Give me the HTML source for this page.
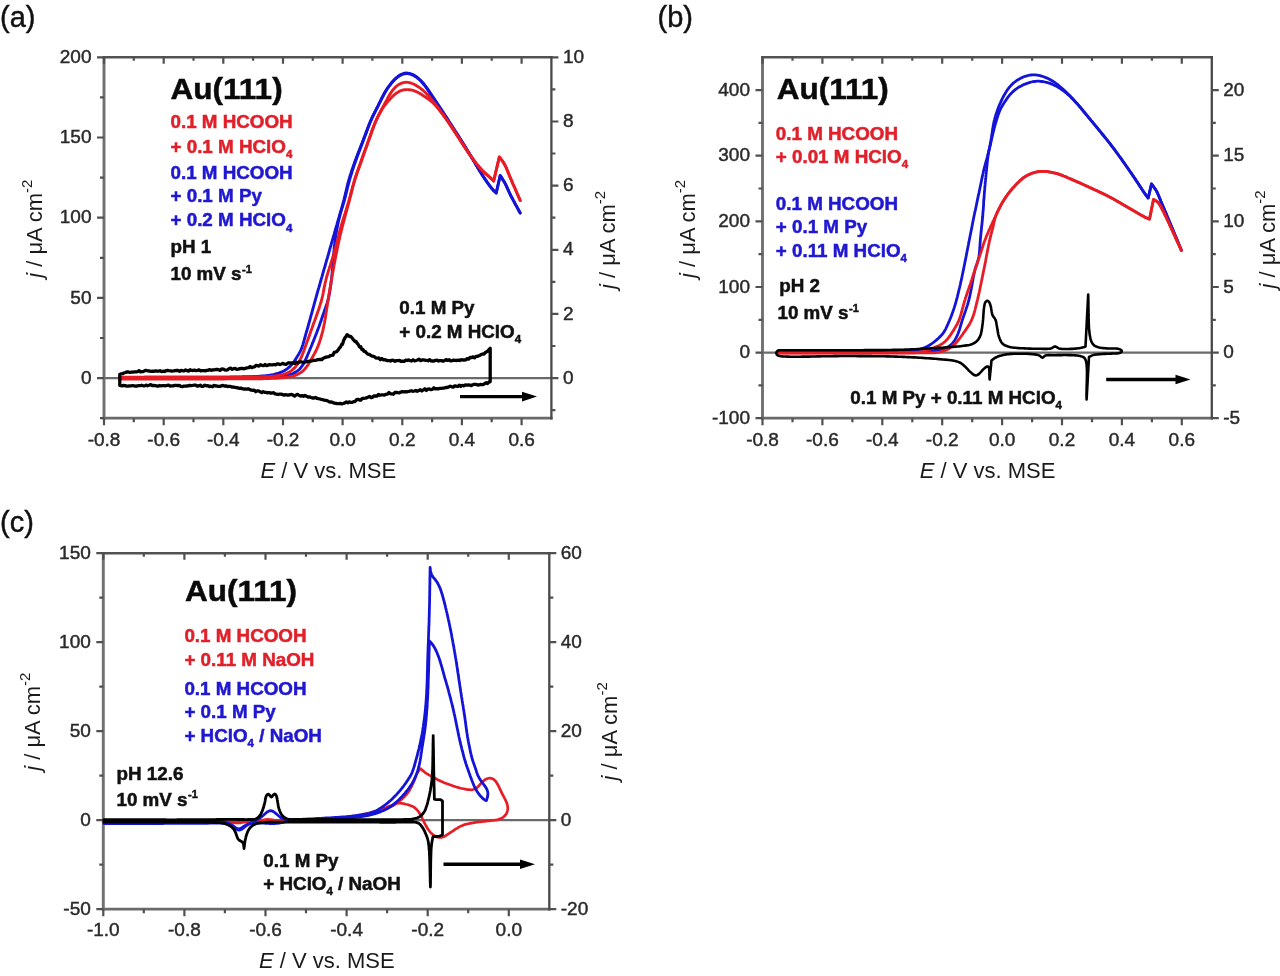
<!DOCTYPE html><html><head><meta charset="utf-8"><style>html,body{margin:0;padding:0;background:#fff;}svg{display:block;font-family:"Liberation Sans",sans-serif;filter:blur(0.45px);}</style></head><body>
<svg width="1280" height="976" viewBox="0 0 1280 976">
<rect width="1280" height="976" fill="#fff"/>
<text x="0" y="26.8" font-size="29" font-weight="normal" fill="#111" text-anchor="start" stroke="#111" stroke-width="0.45">(a)</text>
<text x="657.5" y="26.8" font-size="29" font-weight="normal" fill="#111" text-anchor="start" stroke="#111" stroke-width="0.45">(b)</text>
<text x="0" y="531.5" font-size="29" font-weight="normal" fill="#111" text-anchor="start" stroke="#111" stroke-width="0.45">(c)</text>
<line x1="104" y1="378.1" x2="551.4" y2="378.1" stroke="#6a6a6a" stroke-width="2.2"/>
<line x1="104" y1="56.1" x2="104" y2="419.4" stroke="#707070" stroke-width="2.9"/>
<line x1="102.8" y1="418.2" x2="552.6" y2="418.2" stroke="#6a6a6a" stroke-width="2.8"/>
<line x1="102.8" y1="57.3" x2="552.6" y2="57.3" stroke="#525252" stroke-width="2.5"/>
<line x1="551.4" y1="56.1" x2="551.4" y2="419.4" stroke="#484848" stroke-width="2.3"/>
<path d="M104,418.2v7M104,57.3v6.5M163.7,418.2v7M163.7,57.3v6.5M223.3,418.2v7M223.3,57.3v6.5M283,418.2v7M283,57.3v6.5M342.6,418.2v7M342.6,57.3v6.5M402.3,418.2v7M402.3,57.3v6.5M461.9,418.2v7M461.9,57.3v6.5M521.6,418.2v7M521.6,57.3v6.5M133.8,418.2v4M133.8,57.3v3.5M193.5,418.2v4M193.5,57.3v3.5M253.1,418.2v4M253.1,57.3v3.5M312.8,418.2v4M312.8,57.3v3.5M372.4,418.2v4M372.4,57.3v3.5M432.1,418.2v4M432.1,57.3v3.5M491.7,418.2v4M491.7,57.3v3.5M104,378.1h-7M104,297.9h-7M104,217.7h-7M104,137.5h-7M104,57.3h-7M104,418.2h-4M104,338h-4M104,257.8h-4M104,177.6h-4M104,97.4h-4M551.4,378.1h7M551.4,313.9h7M551.4,249.8h7M551.4,185.6h7M551.4,121.5h7M551.4,57.3h7M551.4,410.2h4M551.4,346h4M551.4,281.9h4M551.4,217.7h4M551.4,153.5h4M551.4,89.4h4" stroke="#505050" stroke-width="2.2" fill="none"/>
<text x="104" y="445.7" font-size="19" font-weight="normal" fill="#2a2a2a" text-anchor="middle" stroke="#2a2a2a" stroke-width="0.45">-0.8</text>
<text x="163.7" y="445.7" font-size="19" font-weight="normal" fill="#2a2a2a" text-anchor="middle" stroke="#2a2a2a" stroke-width="0.45">-0.6</text>
<text x="223.3" y="445.7" font-size="19" font-weight="normal" fill="#2a2a2a" text-anchor="middle" stroke="#2a2a2a" stroke-width="0.45">-0.4</text>
<text x="283" y="445.7" font-size="19" font-weight="normal" fill="#2a2a2a" text-anchor="middle" stroke="#2a2a2a" stroke-width="0.45">-0.2</text>
<text x="342.6" y="445.7" font-size="19" font-weight="normal" fill="#2a2a2a" text-anchor="middle" stroke="#2a2a2a" stroke-width="0.45">0.0</text>
<text x="402.3" y="445.7" font-size="19" font-weight="normal" fill="#2a2a2a" text-anchor="middle" stroke="#2a2a2a" stroke-width="0.45">0.2</text>
<text x="461.9" y="445.7" font-size="19" font-weight="normal" fill="#2a2a2a" text-anchor="middle" stroke="#2a2a2a" stroke-width="0.45">0.4</text>
<text x="521.6" y="445.7" font-size="19" font-weight="normal" fill="#2a2a2a" text-anchor="middle" stroke="#2a2a2a" stroke-width="0.45">0.6</text>
<text x="91.5" y="383.7" font-size="19" font-weight="normal" fill="#2a2a2a" text-anchor="end" stroke="#2a2a2a" stroke-width="0.45">0</text>
<text x="91.5" y="303.5" font-size="19" font-weight="normal" fill="#2a2a2a" text-anchor="end" stroke="#2a2a2a" stroke-width="0.45">50</text>
<text x="91.5" y="223.3" font-size="19" font-weight="normal" fill="#2a2a2a" text-anchor="end" stroke="#2a2a2a" stroke-width="0.45">100</text>
<text x="91.5" y="143.1" font-size="19" font-weight="normal" fill="#2a2a2a" text-anchor="end" stroke="#2a2a2a" stroke-width="0.45">150</text>
<text x="91.5" y="62.9" font-size="19" font-weight="normal" fill="#2a2a2a" text-anchor="end" stroke="#2a2a2a" stroke-width="0.45">200</text>
<text x="562.9" y="383.7" font-size="19" font-weight="normal" fill="#2a2a2a" text-anchor="start" stroke="#2a2a2a" stroke-width="0.45">0</text>
<text x="562.9" y="319.5" font-size="19" font-weight="normal" fill="#2a2a2a" text-anchor="start" stroke="#2a2a2a" stroke-width="0.45">2</text>
<text x="562.9" y="255.4" font-size="19" font-weight="normal" fill="#2a2a2a" text-anchor="start" stroke="#2a2a2a" stroke-width="0.45">4</text>
<text x="562.9" y="191.2" font-size="19" font-weight="normal" fill="#2a2a2a" text-anchor="start" stroke="#2a2a2a" stroke-width="0.45">6</text>
<text x="562.9" y="127.1" font-size="19" font-weight="normal" fill="#2a2a2a" text-anchor="start" stroke="#2a2a2a" stroke-width="0.45">8</text>
<text x="562.9" y="62.9" font-size="19" font-weight="normal" fill="#2a2a2a" text-anchor="start" stroke="#2a2a2a" stroke-width="0.45">10</text>
<text transform="translate(42.3,277.8) rotate(-90)" font-size="22" fill="#1a1a1a"><tspan font-style="italic">j</tspan> / &#956;A cm<tspan font-size="15" dy="-10">-2</tspan></text>
<text transform="translate(614.5,289) rotate(-90)" font-size="22" fill="#1a1a1a"><tspan font-style="italic">j</tspan> / &#956;A cm<tspan font-size="15" dy="-10">-2</tspan></text>
<text x="260.5" y="478.4" font-size="22" fill="#1a1a1a"><tspan font-style="italic">E</tspan> / V vs. MSE</text>
<path d="M119.5,377.4L121,377.4L122.5,377.4L124,377.4L125.5,377.4L127,377.4L128.5,377.4L130,377.4L131.5,377.4L133,377.4L134.5,377.4L136,377.4L137.5,377.4L139,377.4L140.5,377.4L142,377.4L143.5,377.4L145.1,377.3L146.6,377.3L148.1,377.3L149.6,377.3L151.1,377.3L152.6,377.3L154.1,377.3L155.6,377.3L157.1,377.3L158.6,377.3L160.1,377.3L161.6,377.3L163.1,377.3L164.6,377.3L166.1,377.3L167.6,377.3L169.1,377.3L170.6,377.3L172.1,377.3L173.6,377.3L175.1,377.3L176.6,377.3L178.1,377.3L179.6,377.3L181.1,377.3L182.6,377.3L184.1,377.3L185.6,377.3L187.1,377.3L188.6,377.2L190.1,377.2L191.6,377.2L193.2,377.2L194.7,377.2L196.2,377.2L197.7,377.2L199.2,377.2L200.7,377.2L202.2,377.2L203.7,377.2L205.2,377.2L206.7,377.2L208.2,377.2L209.7,377.2L211.2,377.2L212.7,377.2L214.2,377.1L215.7,377.1L217.2,377.1L218.7,377.1L220.2,377.1L221.7,377.1L223.2,377.1L224.7,377.1L226.2,377.1L227.7,377.1L229.2,377.1L230.7,377L232.2,377L233.7,377L235.2,377L236.7,377L238.2,376.9L239.7,376.9L241.2,376.9L242.8,376.8L244.3,376.8L245.8,376.8L247.3,376.8L248.8,376.7L250.3,376.7L251.8,376.6L253.3,376.6L254.8,376.5L256.3,376.5L257.8,376.4L259.3,376.3L260.8,376.2L262.3,376L263.8,375.9L265.3,375.8L266.8,375.6L268.2,375.4L269.7,375.2L271.2,374.9L272.7,374.7L274.2,374.4L275.6,374L277.1,373.6L278.5,373.2L279.9,372.7L281.3,372.1L282.7,371.5L284,370.9L285.3,370.1L286.5,369.3L287.7,368.4L288.9,367.4L290,366.4L291,365.3L292,364.2L293,363.1L293.9,361.9L294.7,360.6L295.5,359.4L296.3,358.1L297.1,356.8L297.9,355.5L298.7,354.2L299.4,352.9L300.1,351.6L300.7,350.3L301.3,348.9L301.9,347.5L302.4,346.1L302.9,344.6L303.3,343.2L303.7,341.8L304.1,340.3L304.5,338.9L304.9,337.4L305.3,336L305.7,334.5L306.1,333.1L306.5,331.6L307,330.2L307.4,328.7L307.8,327.3L308.2,325.8L308.6,324.4L309,322.9L309.4,321.5L309.8,320.1L310.2,318.6L310.6,317.2L311,315.7L311.4,314.3L311.8,312.8L312.2,311.4L312.6,309.9L313,308.5L313.4,307L313.8,305.6L314.2,304.1L314.6,302.7L315,301.2L315.4,299.8L315.8,298.3L316.2,296.9L316.6,295.4L317,294L317.4,292.5L317.8,291.1L318.2,289.6L318.7,288.2L319.1,286.8L319.5,285.3L319.9,283.9L320.3,282.4L320.7,281L321.1,279.5L321.5,278.1L322,276.6L322.4,275.2L322.8,273.7L323.2,272.3L323.6,270.9L324,269.4L324.4,268L324.9,266.5L325.3,265.1L325.7,263.6L326.1,262.2L326.5,260.7L326.9,259.3L327.4,257.9L327.8,256.4L328.2,255L328.6,253.5L329,252.1L329.4,250.6L329.8,249.2L330.2,247.7L330.7,246.3L331.1,244.8L331.5,243.4L331.9,242L332.3,240.5L332.7,239.1L333.1,237.6L333.5,236.2L334,234.7L334.4,233.3L334.8,231.8L335.2,230.4L335.6,228.9L336,227.5L336.4,226.1L336.9,224.6L337.3,223.2L337.7,221.7L338.1,220.3L338.5,218.8L339,217.4L339.4,216L339.8,214.5L340.2,213.1L340.6,211.6L341.1,210.2L341.5,208.7L341.9,207.3L342.3,205.8L342.7,204.4L343.1,202.9L343.5,201.5L343.9,200L344.2,198.6L344.6,197.1L345,195.7L345.3,194.2L345.7,192.7L346,191.3L346.3,189.8L346.7,188.4L347,186.9L347.4,185.4L347.8,184L348.1,182.5L348.5,181.1L348.9,179.6L349.4,178.2L349.8,176.7L350.2,175.3L350.7,173.9L351.2,172.4L351.6,171L352.1,169.6L352.6,168.2L353.1,166.8L353.6,165.3L354.1,163.9L354.6,162.5L355.1,161.1L355.6,159.7L356.1,158.3L356.7,156.9L357.2,155.5L357.7,154L358.3,152.6L358.8,151.2L359.4,149.8L359.9,148.4L360.4,147L361,145.6L361.5,144.2L362.1,142.8L362.6,141.4L363.2,140L363.7,138.6L364.2,137.2L364.8,135.8L365.3,134.4L365.8,133L366.3,131.6L366.9,130.2L367.4,128.8L367.9,127.4L368.5,126L369,124.6L369.6,123.2L370.2,121.8L370.8,120.4L371.4,119L372,117.7L372.6,116.3L373.3,115L374,113.6L374.7,112.3L375.3,110.9L376,109.6L376.7,108.3L377.4,106.9L378.1,105.6L378.8,104.2L379.4,102.9L380.1,101.6L380.8,100.2L381.4,98.9L382.1,97.5L382.8,96.2L383.5,94.9L384.2,93.5L384.9,92.2L385.7,90.9L386.5,89.7L387.3,88.4L388.2,87.2L389.1,86L390,84.8L390.9,83.6L391.8,82.4L392.8,81.3L393.8,80.2L394.9,79.1L396,78.1L397.1,77.1L398.3,76.2L399.5,75.3L400.8,74.6L402.1,74L403.5,73.5L404.9,73.2L406.4,73L407.8,73.1L409.3,73.4L410.7,73.8L412.1,74.3L413.4,74.9L414.7,75.6L416,76.5L417.2,77.3L418.3,78.3L419.4,79.3L420.5,80.3L421.6,81.4L422.6,82.5L423.6,83.6L424.5,84.8L425.4,86L426.3,87.2L427.2,88.4L428.1,89.6L428.9,90.9L429.7,92.1L430.6,93.4L431.4,94.6L432.2,95.9L433.1,97.1L433.9,98.4L434.7,99.6L435.6,100.9L436.4,102.1L437.2,103.4L438.1,104.6L438.9,105.9L439.7,107.1L440.6,108.4L441.4,109.6L442.2,110.9L443.1,112.1L443.9,113.4L444.7,114.7L445.5,115.9L446.4,117.2L447.2,118.4L448,119.7L448.8,121L449.6,122.2L450.5,123.5L451.3,124.7L452.1,126L452.9,127.3L453.7,128.5L454.5,129.8L455.3,131.1L456.1,132.3L457,133.6L457.8,134.9L458.6,136.1L459.4,137.4L460.2,138.7L461,139.9L461.8,141.2L462.6,142.5L463.4,143.8L464.2,145L465,146.3L465.8,147.6L466.5,148.9L467.3,150.1L468.1,151.4L468.9,152.7L469.7,154L470.5,155.3L471.2,156.6L472,157.9L472.8,159.1L473.5,160.4L474.3,161.7L475.1,163L475.8,164.3L476.6,165.6L477.4,166.9L478.2,168.2L478.9,169.5L479.7,170.8L480.5,172L481.3,173.3L482.1,174.6L482.9,175.8L483.7,177.1L484.6,178.4L485.4,179.6L486.3,180.8L487.1,182.1L488,183.3L488.9,184.5L489.7,185.7L490.6,187L491.6,188.1L492.5,189.3L493.5,190.4L494.6,191.5L495.7,192.5L496.2,193L500.2,175.5L501.1,176.8L501.9,178.1L502.7,179.4L503.5,180.7L504.3,182L505.1,183.4L505.8,184.8L506.5,186.2L507.1,187.6L507.7,189L508.4,190.4L509,191.8L509.7,193.2L510.3,194.6L511,196L511.7,197.3L512.5,198.7L513.2,200.1L513.9,201.4L514.6,202.8L515.4,204.2L516.1,205.5L516.9,206.9L517.6,208.2L518.4,209.6L519.1,211L519.8,212.3L520.2,213" fill="none" stroke="#1414d8" stroke-width="2.9" stroke-linejoin="round" stroke-linecap="round"/>
<path d="M119.5,377.4L121,377.4L122.5,377.4L124,377.4L125.5,377.4L127,377.4L128.5,377.4L130,377.4L131.5,377.4L133,377.4L134.5,377.4L136,377.4L137.5,377.4L139,377.4L140.5,377.4L142,377.4L143.5,377.4L145,377.4L146.5,377.4L148.1,377.4L149.6,377.4L151.1,377.4L152.6,377.4L154.1,377.4L155.6,377.4L157.1,377.4L158.6,377.4L160.1,377.4L161.6,377.4L163.1,377.4L164.6,377.4L166.1,377.4L167.6,377.4L169.1,377.4L170.6,377.4L172.1,377.4L173.6,377.4L175.1,377.4L176.6,377.4L178.1,377.4L179.6,377.4L181.1,377.4L182.6,377.4L184.1,377.4L185.6,377.4L187.1,377.4L188.6,377.4L190.1,377.4L191.6,377.4L193.1,377.4L194.6,377.4L196.1,377.4L197.6,377.4L199.1,377.5L200.6,377.5L202.1,377.5L203.6,377.5L205.2,377.5L206.7,377.5L208.2,377.5L209.7,377.5L211.2,377.5L212.7,377.5L214.2,377.5L215.7,377.5L217.2,377.5L218.7,377.4L220.2,377.4L221.7,377.4L223.2,377.4L224.7,377.4L226.2,377.4L227.7,377.4L229.2,377.4L230.7,377.4L232.2,377.4L233.7,377.4L235.2,377.4L236.7,377.4L238.2,377.4L239.7,377.4L241.2,377.4L242.7,377.4L244.2,377.4L245.7,377.4L247.2,377.3L248.7,377.3L250.2,377.3L251.7,377.3L253.2,377.3L254.7,377.3L256.2,377.3L257.7,377.2L259.2,377.2L260.7,377.2L262.3,377.2L263.8,377.1L265.3,377.1L266.8,377.1L268.3,377.1L269.8,377.1L271.3,377L272.8,377L274.3,376.9L275.8,376.8L277.3,376.7L278.8,376.6L280.3,376.4L281.7,376.2L283.2,376L284.7,375.8L286.2,375.5L287.6,375.2L289.1,374.8L290.5,374.4L291.9,373.9L293.3,373.3L294.7,372.6L296,371.9L297.2,371.1L298.4,370.2L299.5,369.2L300.5,368.1L301.4,366.9L302.3,365.7L303.1,364.4L303.8,363.2L304.5,361.8L305.2,360.5L305.8,359.1L306.5,357.8L307.1,356.4L307.6,355L308.2,353.6L308.8,352.2L309.4,350.8L309.9,349.4L310.5,348.1L311.1,346.7L311.7,345.3L312.2,343.9L312.8,342.5L313.4,341.1L313.9,339.7L314.5,338.3L315,336.9L315.6,335.5L316.1,334.1L316.7,332.7L317.2,331.3L317.7,329.9L318.2,328.5L318.8,327.1L319.3,325.7L319.8,324.3L320.3,322.8L320.8,321.4L321.3,320L321.7,318.6L322.2,317.2L322.7,315.7L323.2,314.3L323.7,312.9L324.2,311.5L324.7,310.1L325.2,308.7L325.7,307.2L326.2,305.8L326.7,304.4L327.2,303L327.6,301.5L328,300.1L328.4,298.6L328.7,297.2L329,295.7L329.3,294.2L329.6,292.7L329.8,291.3L330,289.8L330.3,288.3L330.5,286.8L330.7,285.3L330.9,283.8L331.1,282.3L331.3,280.9L331.5,279.4L331.6,277.9L331.8,276.4L331.9,274.9L332.1,273.4L332.2,271.9L332.3,270.4L332.5,268.9L332.6,267.4L332.7,265.9L332.8,264.4L332.9,262.9L333,261.4L333.1,259.9L333.2,258.4L333.4,256.9L333.5,255.4L333.6,253.9L333.8,252.4L333.9,250.9L334.1,249.4L334.2,247.9L334.4,246.4L334.6,244.9L334.8,243.5L334.9,242L335.1,240.5L335.3,239L335.5,237.5L335.8,236L336,234.5L336.2,233L336.5,231.6L336.7,230.1L337,228.6L337.3,227.1L337.6,225.6L337.9,224.2L338.2,222.7L338.5,221.2L338.8,219.8L339.2,218.3L339.6,216.9L339.9,215.4L340.3,213.9L340.7,212.5L341.1,211.1L341.6,209.6L342,208.2L342.5,206.8L342.9,205.3L343.3,203.9L343.8,202.4L344.2,201L344.6,199.5L345,198.1L345.4,196.6L345.7,195.2L346.1,193.7L346.4,192.3L346.8,190.8L347.1,189.3L347.5,187.9L347.8,186.4L348.2,185L348.6,183.5L349,182.1L349.4,180.6L349.8,179.2L350.2,177.7L350.6,176.3L351.1,174.8L351.5,173.4L352,172L352.4,170.5L352.9,169.1L353.4,167.7L353.8,166.3L354.3,164.8L354.8,163.4L355.3,162L355.8,160.6L356.3,159.2L356.8,157.8L357.3,156.3L357.9,154.9L358.4,153.5L358.9,152.1L359.5,150.7L360,149.3L360.5,147.9L361.1,146.5L361.6,145.1L362.2,143.7L362.7,142.3L363.2,140.9L363.8,139.5L364.3,138.1L364.8,136.7L365.3,135.3L365.9,133.9L366.4,132.5L366.9,131L367.4,129.6L367.9,128.2L368.5,126.8L369,125.4L369.6,124L370.1,122.6L370.7,121.2L371.3,119.9L371.9,118.5L372.5,117.1L373.2,115.8L373.8,114.4L374.5,113.1L375.2,111.7L375.9,110.4L376.5,109L377.2,107.7L377.9,106.4L378.6,105L379.2,103.7L379.9,102.3L380.6,101L381.2,99.6L381.9,98.3L382.6,97L383.3,95.6L384,94.3L384.7,93L385.5,91.7L386.2,90.4L387,89.1L387.9,87.9L388.8,86.7L389.6,85.5L390.6,84.3L391.5,83.1L392.5,82L393.5,80.9L394.6,79.8L395.7,78.8L396.8,77.8L398,76.9L399.2,76L400.5,75.3L401.8,74.6L403.2,74.1L404.6,73.8L406,73.6L407.5,73.6L408.9,73.8L410.4,74.1L411.8,74.6L413.1,75.2L414.4,75.9L415.7,76.7L416.9,77.6L418.1,78.5L419.2,79.5L420.3,80.5L421.3,81.6L422.3,82.7L423.3,83.8L424.3,85L425.2,86.2L426.1,87.4L426.9,88.6L427.8,89.9L428.6,91.1L429.4,92.4L430.2,93.6L431.1,94.9L431.9,96.2L432.7,97.4L433.6,98.7L434.4,99.9L435.2,101.1L436.1,102.4L436.9,103.6L437.8,104.9L438.6,106.1L439.5,107.4L440.3,108.6L441.2,109.8L442,111.1L442.8,112.3L443.7,113.6L444.5,114.8L445.3,116.1L446.1,117.4L447,118.6L447.8,119.9L448.6,121.1L449.4,122.4L450.2,123.6L451.1,124.9L451.9,126.2L452.7,127.4L453.5,128.7L454.3,130L455.1,131.2L455.9,132.5L456.7,133.8L457.6,135L458.4,136.3L459.2,137.6L460,138.8L460.8,140.1L461.6,141.4L462.4,142.6L463.2,143.9L464,145.2L464.8,146.4L465.6,147.7L466.4,149L467.2,150.3L468,151.5L468.8,152.8L469.6,154.1L470.4,155.4L471.1,156.7L471.9,158L472.7,159.2L473.4,160.5L474.2,161.8L475,163.1L475.7,164.4L476.5,165.7L477.3,167L478,168.3L478.8,169.6L479.6,170.9L480.4,172.1L481.2,173.4L482,174.7L482.8,175.9L483.6,177.2L484.5,178.5L485.3,179.7L486.2,180.9L487,182.2L487.9,183.4L488.8,184.6L489.7,185.8L490.6,187L491.5,188.2L492.5,189.3L493.5,190.4L494.6,191.5L495.6,192.5L496.2,193L500.2,175.5L501.1,176.8L501.9,178.1L502.7,179.4L503.5,180.7L504.3,182L505.1,183.4L505.8,184.8L506.5,186.2L507.1,187.6L507.7,189L508.4,190.4L509,191.8L509.7,193.2L510.3,194.6L511,196L511.7,197.3L512.5,198.7L513.2,200.1L513.9,201.4L514.6,202.8L515.4,204.2L516.1,205.5L516.9,206.9L517.6,208.2L518.4,209.6L519.1,211L519.8,212.3L520.2,213" fill="none" stroke="#1414d8" stroke-width="2.9" stroke-linejoin="round" stroke-linecap="round"/>
<path d="M119.5,377.3L121,377.3L122.5,377.3L124,377.3L125.5,377.3L127,377.3L128.5,377.3L130,377.3L131.5,377.3L133,377.3L134.5,377.3L136,377.3L137.5,377.3L139,377.3L140.5,377.3L142,377.3L143.5,377.3L145,377.3L146.5,377.3L148,377.3L149.5,377.3L151.1,377.3L152.6,377.3L154.1,377.3L155.6,377.3L157.1,377.3L158.6,377.3L160.1,377.3L161.6,377.3L163.1,377.3L164.6,377.3L166.1,377.3L167.6,377.3L169.1,377.3L170.6,377.3L172.1,377.2L173.6,377.2L175.1,377.2L176.6,377.2L178.1,377.2L179.6,377.2L181.1,377.2L182.6,377.2L184.1,377.2L185.6,377.2L187.1,377.2L188.6,377.2L190.1,377.2L191.6,377.2L193.1,377.2L194.6,377.2L196.1,377.2L197.6,377.2L199.1,377.2L200.6,377.2L202.1,377.2L203.6,377.2L205.1,377.2L206.6,377.2L208.1,377.2L209.6,377.2L211.1,377.2L212.7,377.2L214.2,377.2L215.7,377.2L217.2,377.2L218.7,377.2L220.2,377.2L221.7,377.2L223.2,377.2L224.7,377.2L226.2,377.2L227.7,377.1L229.2,377.1L230.7,377.1L232.2,377.1L233.7,377.1L235.2,377.1L236.7,377.1L238.2,377.1L239.7,377.1L241.2,377.1L242.7,377.1L244.2,377.1L245.7,377L247.2,377L248.7,377L250.2,377L251.7,377L253.2,377L254.7,376.9L256.2,376.9L257.7,376.9L259.2,376.9L260.7,376.9L262.2,376.8L263.7,376.8L265.2,376.7L266.7,376.7L268.2,376.6L269.7,376.5L271.2,376.4L272.7,376.3L274.2,376.1L275.7,376L277.2,375.8L278.7,375.6L280.2,375.3L281.6,375L283.1,374.6L284.5,374.2L285.9,373.7L287.3,373.1L288.6,372.4L289.9,371.7L291.1,370.8L292.3,369.9L293.4,368.9L294.5,367.9L295.5,366.8L296.4,365.6L297.3,364.4L298.1,363.1L298.9,361.9L299.6,360.6L300.3,359.2L301,357.9L301.6,356.5L302.2,355.1L302.7,353.7L303.3,352.3L303.8,350.9L304.3,349.5L304.8,348.1L305.3,346.7L305.8,345.3L306.3,343.9L306.8,342.4L307.4,341L307.9,339.6L308.4,338.2L308.9,336.8L309.4,335.4L309.9,334L310.4,332.5L310.9,331.1L311.4,329.7L311.9,328.3L312.4,326.9L312.9,325.5L313.4,324.1L313.9,322.6L314.5,321.2L315,319.8L315.5,318.4L316,317L316.5,315.6L317,314.2L317.5,312.7L318,311.3L318.5,309.9L319,308.5L319.4,307.1L319.9,305.6L320.3,304.2L320.8,302.8L321.2,301.3L321.6,299.9L322,298.4L322.3,297L322.7,295.5L323,294L323.3,292.5L323.5,291.1L323.8,289.6L324.1,288.1L324.4,286.6L324.7,285.2L325,283.7L325.3,282.2L325.7,280.8L326,279.3L326.4,277.9L326.8,276.4L327.2,275L327.7,273.5L328.1,272.1L328.5,270.7L329,269.2L329.4,267.8L329.9,266.4L330.4,264.9L330.8,263.5L331.3,262.1L331.7,260.6L332.2,259.2L332.6,257.8L333.1,256.3L333.5,254.9L334,253.5L334.4,252L334.8,250.6L335.2,249.1L335.6,247.7L336,246.2L336.3,244.8L336.7,243.3L337.1,241.9L337.4,240.4L337.8,238.9L338.1,237.5L338.5,236L338.8,234.6L339.2,233.1L339.6,231.6L340,230.2L340.4,228.7L340.8,227.3L341.2,225.9L341.6,224.4L342.1,223L342.5,221.5L342.9,220.1L343.4,218.7L343.8,217.2L344.3,215.8L344.7,214.4L345.2,212.9L345.6,211.5L346.1,210.1L346.5,208.6L346.9,207.2L347.4,205.8L347.8,204.3L348.2,202.9L348.7,201.4L349.1,200L349.5,198.5L349.9,197.1L350.3,195.6L350.7,194.2L351,192.7L351.4,191.3L351.8,189.8L352.2,188.4L352.6,186.9L353,185.5L353.4,184L353.8,182.6L354.2,181.1L354.6,179.7L355.1,178.3L355.5,176.8L356,175.4L356.5,174L357,172.6L357.5,171.2L358,169.7L358.5,168.3L359,166.9L359.5,165.5L360,164.1L360.5,162.7L361,161.3L361.5,159.8L362,158.4L362.5,157L363,155.6L363.5,154.2L364,152.8L364.5,151.3L365,149.9L365.5,148.5L366.1,147.1L366.6,145.7L367.1,144.3L367.6,142.9L368.1,141.4L368.6,140L369.1,138.6L369.6,137.2L370.1,135.8L370.6,134.4L371.1,133L371.6,131.5L372.1,130.1L372.6,128.7L373.2,127.3L373.7,125.9L374.3,124.5L374.8,123.1L375.4,121.7L376,120.3L376.6,119L377.3,117.6L377.9,116.3L378.6,114.9L379.3,113.6L380,112.3L380.7,111L381.4,109.6L382.2,108.3L382.9,107L383.6,105.7L384.3,104.4L385,103L385.7,101.7L386.5,100.4L387.2,99.1L387.9,97.8L388.6,96.4L389.4,95.1L390.2,93.9L391,92.6L391.8,91.4L392.7,90.2L393.7,89L394.7,87.9L395.7,86.9L396.9,85.9L398,85L399.3,84.2L400.6,83.6L402,83L403.4,82.7L404.9,82.4L406.3,82.3L407.8,82.4L409.2,82.6L410.7,83L412.1,83.5L413.5,84L414.8,84.7L416.1,85.4L417.4,86.2L418.6,87L419.9,87.9L421.1,88.8L422.2,89.7L423.4,90.7L424.5,91.7L425.6,92.7L426.6,93.8L427.6,94.9L428.6,96L429.6,97.2L430.5,98.3L431.5,99.5L432.4,100.7L433.4,101.8L434.3,103L435.3,104.2L436.2,105.4L437.1,106.6L438,107.7L439,108.9L439.9,110.1L440.8,111.3L441.7,112.5L442.6,113.7L443.5,114.9L444.3,116.2L445.2,117.4L446.1,118.6L446.9,119.9L447.8,121.1L448.6,122.3L449.4,123.6L450.3,124.8L451.1,126.1L451.9,127.4L452.7,128.6L453.6,129.9L454.4,131.1L455.2,132.4L456,133.7L456.8,134.9L457.7,136.2L458.5,137.4L459.3,138.7L460.1,140L460.9,141.2L461.7,142.5L462.5,143.8L463.3,145L464.1,146.3L465,147.5L465.8,148.8L466.6,150.1L467.5,151.3L468.3,152.5L469.2,153.8L470,155L470.9,156.2L471.8,157.4L472.7,158.7L473.6,159.9L474.4,161.1L475.4,162.3L476.3,163.5L477.2,164.6L478.1,165.8L479.1,167L480.1,168.1L481.1,169.2L482.1,170.3L483.2,171.4L484.3,172.4L485.4,173.4L486.5,174.4L487.7,175.4L488.8,176.4L489.9,177.4L491,178.4L492.1,179.4L493.2,180.5L493.7,181L499.3,157L500.3,158.2L501.2,159.4L502.2,160.6L503,161.9L503.9,163.2L504.6,164.5L505.3,165.8L506,167.2L506.6,168.6L507.2,170.1L507.8,171.5L508.3,172.9L508.9,174.3L509.5,175.8L510.1,177.2L510.7,178.6L511.3,180L511.9,181.4L512.5,182.9L513.1,184.3L513.8,185.7L514.4,187.1L515,188.5L515.6,189.9L516.2,191.3L516.8,192.7L517.4,194.1L518.1,195.6L518.7,197L519.3,198.4L519.9,199.8L520.2,200.5" fill="none" stroke="#e81c24" stroke-width="2.9" stroke-linejoin="round" stroke-linecap="round"/>
<path d="M119.5,379L121,379L122.5,379L124,379L125.5,379L127,379L128.5,379L130,379L131.5,379L133,379L134.5,379L136,379L137.5,379L139,379L140.5,379L142,379L143.6,379L145.1,379L146.6,379L148.1,379L149.6,379L151.1,379L152.6,379L154.1,379L155.6,379L157.1,379L158.6,379L160.1,379L161.6,379L163.1,379L164.6,379L166.1,379L167.6,379L169.1,379L170.6,379L172.1,379L173.6,379L175.1,379L176.6,379L178.1,379L179.6,379L181.1,379L182.6,379L184.1,379L185.6,379L187.1,379L188.6,379L190.2,379L191.7,379L193.2,379L194.7,379L196.2,379L197.7,379L199.2,379L200.7,379L202.2,379L203.7,379L205.2,379L206.7,379L208.2,379L209.7,379L211.2,379L212.7,379L214.2,379L215.7,379L217.2,379L218.7,379L220.2,379L221.7,379L223.2,379L224.7,379L226.2,378.9L227.7,378.9L229.2,378.9L230.7,378.9L232.2,378.9L233.7,378.9L235.3,378.9L236.8,378.9L238.3,378.9L239.8,378.9L241.3,378.9L242.8,378.9L244.3,378.9L245.8,378.8L247.3,378.8L248.8,378.8L250.3,378.8L251.8,378.8L253.3,378.8L254.8,378.7L256.3,378.7L257.8,378.7L259.3,378.7L260.8,378.7L262.3,378.7L263.8,378.6L265.3,378.6L266.8,378.6L268.3,378.5L269.8,378.5L271.3,378.4L272.8,378.4L274.3,378.3L275.8,378.2L277.3,378.1L278.8,378L280.3,377.9L281.8,377.7L283.3,377.6L284.8,377.4L286.3,377.2L287.8,377L289.3,376.7L290.7,376.5L292.2,376.1L293.7,375.8L295.1,375.3L296.5,374.8L297.9,374.2L299.2,373.5L300.5,372.8L301.7,371.9L302.8,371L303.9,370L304.9,368.9L305.9,367.7L306.8,366.5L307.7,365.3L308.5,364.1L309.3,362.8L310,361.5L310.8,360.2L311.5,358.9L312.3,357.6L313,356.3L313.7,355L314.5,353.6L315.2,352.3L315.9,351L316.5,349.6L317.1,348.3L317.7,346.9L318.3,345.5L318.8,344.1L319.3,342.7L319.8,341.2L320.2,339.8L320.7,338.4L321.1,336.9L321.5,335.5L321.9,334L322.3,332.6L322.7,331.1L323,329.7L323.4,328.2L323.7,326.7L324,325.3L324.3,323.8L324.6,322.3L324.8,320.8L325.1,319.3L325.3,317.9L325.6,316.4L325.8,314.9L326,313.4L326.3,311.9L326.5,310.4L326.7,309L326.9,307.5L327.2,306L327.4,304.5L327.6,303L327.9,301.5L328.1,300L328.3,298.6L328.6,297.1L328.8,295.6L329.1,294.1L329.3,292.6L329.5,291.1L329.8,289.7L330,288.2L330.3,286.7L330.5,285.2L330.8,283.7L331,282.2L331.3,280.8L331.5,279.3L331.8,277.8L332.1,276.3L332.3,274.8L332.6,273.4L332.8,271.9L333.1,270.4L333.4,268.9L333.7,267.4L333.9,266L334.2,264.5L334.5,263L334.8,261.5L335,260L335.3,258.6L335.6,257.1L335.9,255.6L336.2,254.1L336.5,252.7L336.8,251.2L337.1,249.7L337.4,248.3L337.7,246.8L338,245.3L338.3,243.8L338.6,242.4L338.9,240.9L339.3,239.4L339.6,238L339.9,236.5L340.3,235L340.6,233.6L341,232.1L341.3,230.7L341.7,229.2L342.1,227.7L342.4,226.3L342.8,224.8L343.2,223.4L343.6,221.9L344,220.5L344.4,219L344.7,217.6L345.1,216.1L345.5,214.7L345.9,213.2L346.3,211.8L346.7,210.3L347.1,208.9L347.5,207.4L347.9,206L348.3,204.5L348.7,203.1L349.1,201.6L349.5,200.2L349.8,198.7L350.2,197.2L350.6,195.8L351,194.3L351.3,192.9L351.7,191.4L352.1,190L352.4,188.5L352.8,187L353.2,185.6L353.6,184.1L354,182.7L354.5,181.3L354.9,179.8L355.3,178.4L355.8,177L356.3,175.5L356.8,174.1L357.2,172.7L357.7,171.3L358.2,169.9L358.8,168.4L359.3,167L359.8,165.6L360.3,164.2L360.8,162.8L361.3,161.4L361.8,160L362.3,158.5L362.8,157.1L363.3,155.7L363.8,154.3L364.3,152.9L364.8,151.4L365.3,150L365.8,148.6L366.3,147.2L366.8,145.8L367.3,144.4L367.8,142.9L368.3,141.5L368.9,140.1L369.4,138.7L369.9,137.3L370.4,135.9L370.9,134.5L371.4,133L371.9,131.6L372.4,130.2L372.9,128.8L373.4,127.4L373.9,126L374.5,124.6L375.1,123.2L375.7,121.8L376.3,120.4L376.9,119.1L377.5,117.7L378.2,116.4L378.9,115L379.6,113.7L380.3,112.4L381.1,111.1L381.8,109.8L382.6,108.5L383.4,107.3L384.3,106L385.2,104.8L386.1,103.6L387,102.4L388,101.3L389,100.2L390,99L391,97.9L392.1,96.9L393.1,95.8L394.3,94.8L395.4,93.9L396.6,93L397.9,92.2L399.2,91.4L400.5,90.8L401.9,90.3L403.3,89.9L404.8,89.7L406.2,89.6L407.7,89.6L409.2,89.7L410.7,89.9L412.1,90.2L413.6,90.6L415,91.1L416.4,91.7L417.7,92.3L419,93L420.3,93.8L421.6,94.6L422.9,95.4L424.1,96.2L425.4,97L426.6,97.9L427.9,98.7L429.1,99.6L430.3,100.5L431.4,101.5L432.6,102.4L433.6,103.5L434.7,104.6L435.7,105.7L436.7,106.8L437.6,108L438.6,109.1L439.5,110.3L440.4,111.5L441.3,112.7L442.3,113.9L443.2,115.1L444.1,116.3L444.9,117.5L445.8,118.7L446.7,120L447.6,121.2L448.4,122.4L449.2,123.7L450.1,124.9L450.9,126.2L451.7,127.4L452.6,128.7L453.4,129.9L454.2,131.2L455,132.5L455.9,133.7L456.7,135L457.5,136.2L458.3,137.5L459.2,138.7L460,140L460.8,141.3L461.6,142.5L462.4,143.8L463.3,145L464.1,146.3L464.9,147.6L465.7,148.8L466.6,150L467.4,151.3L468.3,152.5L469.2,153.8L470,155L470.9,156.2L471.8,157.4L472.7,158.6L473.6,159.8L474.4,161.1L475.4,162.3L476.3,163.5L477.2,164.6L478.1,165.8L479.1,167L480.1,168.1L481.1,169.2L482.1,170.3L483.2,171.3L484.3,172.4L485.4,173.4L486.5,174.4L487.7,175.4L488.8,176.4L489.9,177.4L491,178.4L492.1,179.4L493.2,180.5L493.7,181L499.3,157L500.3,158.2L501.2,159.4L502.2,160.6L503,161.9L503.9,163.2L504.6,164.5L505.3,165.8L506,167.2L506.6,168.6L507.2,170.1L507.8,171.5L508.3,172.9L508.9,174.3L509.5,175.8L510.1,177.2L510.7,178.6L511.3,180L511.9,181.4L512.5,182.9L513.1,184.3L513.8,185.7L514.4,187.1L515,188.5L515.6,189.9L516.2,191.3L516.8,192.7L517.4,194.1L518.1,195.6L518.7,197L519.3,198.4L519.9,199.8L520.2,200.5" fill="none" stroke="#e81c24" stroke-width="2.9" stroke-linejoin="round" stroke-linecap="round"/>
<path d="M119.8,374.5L121.2,373.8L122.6,373.7L124,372.9L125.5,372.5L127,371.9L128.4,372L129.9,372.5L131.4,372.1L132.9,372.2L134.4,371.8L136,371.8L137.5,371.6L139,370.7L140.5,371.8L142,371.6L143.5,371.5L145,370.5L146.5,370.5L148,370.8L149.5,371L151,371.3L152.5,371.1L154,371.3L155.5,370.8L157,371.2L158.5,371.2L160,370.7L161.5,371.7L163,371.2L164.5,371.5L166,370.6L167.5,370.5L169,370.7L170.5,370.8L172,371.1L173.6,370.9L175.1,370.6L176.6,370.3L178.1,370.5L179.6,371.3L181.1,370.3L182.6,370.8L184.1,370.9L185.6,370L187.1,370.6L188.6,371.2L190.1,369.7L191.6,370.4L193.1,370.5L194.6,370.1L196.1,370.7L197.6,370.4L199.1,369.8L200.6,370.8L202.1,370.7L203.6,370.7L205.1,370.9L206.6,370.4L208.2,370.3L209.7,369.6L211.2,370.4L212.7,369.8L214.2,369.9L215.7,369.5L217.2,369.5L218.7,369.7L220.2,370.4L221.7,368.9L223.2,369.1L224.7,369.8L226.2,370.2L227.7,369.7L229.2,368.5L230.7,368.2L232.2,369.3L233.7,368.7L235.2,368.5L236.7,369.3L238.2,369.2L239.7,368.6L241.2,368.5L242.7,368.4L244.2,368.8L245.7,368.2L247.2,367.9L248.7,367.7L250.1,366.5L251.6,367.6L253.1,367.2L254.6,366.7L256.1,365.3L257.6,365.7L259,366.1L260.5,364.7L262,365.3L263.5,365.7L265,364.5L266.5,365.7L268,365.1L269.5,364.6L271,364.8L272.5,364.8L274,364.5L275.5,364.8L277,363.9L278.5,364L280,364.5L281.5,364L283,363.4L284.5,364.2L286,364.3L287.5,363.3L289,362.7L290.5,363.2L292,363L293.5,362.8L295,363.4L296.5,362.2L298,363.1L299.5,361.8L301,361.8L302.5,362.3L304,362.3L305.5,362L307,361.6L308.5,361.3L310,361.1L311.4,361L312.9,360.5L314.4,360.4L315.9,360.3L317.4,359.7L318.8,359.7L320.3,359.3L321.7,359.6L323.2,358.4L324.6,357.6L326.1,357.2L327.5,356.8L328.9,356.7L330.3,355.6L331.6,355.3L332.9,355.2L334.2,352.4L335.3,352.1L336.4,351.7L337.5,350.7L338.5,349.4L339.4,348L340.3,347.2L341.1,345.8L341.8,344.2L342.5,344.2L343.2,341.9L343.8,340.1L344.4,338.9L345.1,337.6L346,336.6L347.1,334.7L348.3,335.5L349.5,336.5L350.7,336.3L351.9,337.7L352.9,339.2L354,340.2L355,341.6L356,341.3L357,343.1L358,344.2L358.9,345.8L359.8,347.2L360.8,346.7L361.8,349.5L362.9,349.4L364,351.3L365.2,351.3L366.4,352.9L367.7,354.1L369,354.3L370.4,355.1L371.7,356L373.1,356.2L374.5,356.7L375.9,357.9L377.4,358.2L378.8,358L380.3,359.8L381.7,358.4L383.2,359.8L384.6,359.6L386.1,360.1L387.6,360.6L389,360.7L390.5,361L392,360.2L393.5,360.3L395,361.3L396.5,360.6L398,360.6L399.5,360.3L401,361.5L402.6,361.2L404.1,361.4L405.6,360.2L407.1,360.5L408.6,359.9L410.1,360.7L411.6,361L413.1,359.8L414.6,360.8L416.1,360.5L417.6,360L419.1,359.1L420.6,360.6L422.1,360L423.6,359.8L425.1,360.3L426.6,360.3L428.1,360.8L429.6,359.7L431.1,360.8L432.6,361L434.1,361L435.6,360.3L437.1,360.1L438.6,361L440.1,360.6L441.6,360.6L443.1,361.2L444.6,360.5L446.1,359.6L447.7,360.4L449.2,359.7L450.7,360.9L452.2,360.6L453.7,360.1L455.2,360.3L456.7,360.5L458.2,360.1L459.7,360.5L461.2,359.7L462.7,360L464.1,360L465.6,359.9L467.1,358.6L468.6,359.1L470.1,357.5L471.6,357.6L473,356.8L474.5,357.8L475.9,356.3L477.3,356.4L478.7,355.7L480.1,355.2L481.5,354.3L482.8,354L484.1,354L485.4,352.4L486.6,351.8L487.8,351.1L489,349.6L490.2,348.2L490.2,381.6L488.9,382.1L487.6,383.5L486.2,382.7L484.7,383.6L483.2,384.6L481.8,384.7L480.3,384.5L478.8,385L477.3,384.8L475.8,384.4L474.3,384.3L472.8,384.8L471.3,385.6L469.8,385.1L468.3,385L466.8,385.2L465.3,385L463.8,385.8L462.3,385.4L460.8,386.3L459.3,385.2L457.8,386.5L456.3,386.2L454.8,385.8L453.3,387.2L451.8,386.9L450.3,386.1L448.8,386.9L447.3,387.5L445.8,387.4L444.3,388.1L442.8,388.2L441.3,388.3L439.8,388.3L438.3,388.9L436.8,388.7L435.3,388.8L433.8,387.8L432.3,389.3L430.8,389.6L429.3,389L427.8,389.1L426.3,390.4L424.8,388.8L423.3,390L421.8,391L420.3,389.7L418.8,390.6L417.3,391.3L415.8,390.5L414.3,391L412.8,391.3L411.3,390.7L409.8,391.2L408.3,391.5L406.8,391.9L405.3,391.7L403.8,391.8L402.3,391.6L400.9,392L399.4,392.8L397.9,392.6L396.4,392.3L394.9,392.5L393.4,394.3L391.9,393.8L390.4,393.8L388.9,392.5L387.4,394.2L385.9,394.3L384.4,395.1L382.9,394.8L381.5,394.8L380,395.3L378.5,394.5L377,396.1L375.5,396L374.1,395.9L372.6,397.1L371.1,397.6L369.6,396.5L368.2,397.1L366.7,397.9L365.2,398.2L363.8,398.3L362.3,398.4L360.8,400.1L359.4,400L357.9,399.4L356.5,399.7L355,401.5L353.6,401.6L352.1,402.4L350.7,402.3L349.2,401.9L347.8,402.8L346.3,402L344.8,402.9L343.3,403.5L341.8,403.9L340.3,403.4L338.8,403.6L337.4,403.7L335.9,403.4L334.4,403.2L332.9,402.6L331.5,402L330,402.1L328.6,401.4L327.1,400.6L325.7,400.3L324.2,400.2L322.8,399.7L321.3,399.4L319.9,399L318.4,398.7L316.9,398.3L315.4,397.5L314,398L312.5,398L311,397.5L309.5,396.9L308,397L306.5,396.2L305,395.5L303.5,396.3L302.1,395.6L300.6,396.2L299.1,395.3L297.6,394.4L296.1,395L294.6,396.1L293.1,395.1L291.6,394.5L290.1,394.6L288.6,395.1L287.1,395L285.6,394.7L284.1,395.1L282.6,394.6L281.1,394.1L279.6,394.2L278.1,394.5L276.6,394.1L275.1,393.9L273.6,392.7L272.1,393L270.6,393.1L269.1,392.5L267.6,392.9L266.1,392.4L264.7,392.4L263.2,391.6L261.7,392.6L260.2,391.8L258.7,390.9L257.2,390.8L255.7,391.7L254.2,390.1L252.8,390.4L251.3,390.2L249.8,389.5L248.3,388.8L246.8,389.1L245.3,389L243.8,389.1L242.4,388.7L240.9,388.1L239.4,388.3L237.9,387.9L236.4,387.6L234.9,387.3L233.4,387L231.9,387.2L230.4,386.3L228.9,386.4L227.4,386.5L225.9,385.8L224.4,386.1L222.9,385.4L221.4,385.9L219.9,386.4L218.4,386.4L216.9,386L215.4,385.9L213.9,385.4L212.4,386.8L210.9,386.2L209.4,386.5L207.9,385.6L206.4,385.9L204.9,385.1L203.3,386.3L201.8,386.4L200.3,385.1L198.8,385.9L197.3,386.2L195.8,385.1L194.3,385.1L192.8,385.4L191.3,385.6L189.8,385.3L188.3,385.9L186.8,386L185.3,386.2L183.8,386.2L182.3,386.6L180.8,386.4L179.3,385.3L177.8,385.7L176.3,385.4L174.7,385.4L173.2,385.8L171.7,385.9L170.2,386.1L168.7,385.1L167.2,385.3L165.7,385.8L164.2,385.7L162.7,385.7L161.2,385.8L159.7,385.5L158.2,386.1L156.7,386L155.2,385.7L153.7,385.5L152.2,385.7L150.7,384.6L149.2,385.3L147.6,385.8L146.1,385.1L144.6,385.9L143.1,385.8L141.6,385.2L140.1,385.7L138.6,385.6L137.1,386L135.6,386.1L134.1,385.8L132.6,385.5L131.1,385.8L129.6,385.8L128.1,386.2L126.6,386.1L125.1,385.6L123.6,385.4L122.1,385.8L120.6,385.7L119.8,385.5L119.8,374.5" fill="none" stroke="#000" stroke-width="3.3" stroke-linejoin="round" stroke-linecap="round"/>
<line x1="460" y1="396.6" x2="525" y2="396.6" stroke="#000" stroke-width="3.4"/>
<polygon points="522,391.8 537,396.6 522,401.4" fill="#000"/>
<text transform="translate(170.6,99.4) scale(1.05,1)" font-size="30" font-weight="bold" fill="#0a0a0a" text-anchor="start" stroke="#0a0a0a" stroke-width="0.5">Au(111)</text>
<text transform="translate(170.5,128.2) scale(1.045,1)" font-size="18" font-weight="bold" fill="#e0202a" text-anchor="start" stroke="#e0202a" stroke-width="0.5">0.1 M HCOOH</text>
<text transform="translate(170.5,152.5) scale(1.045,1)" font-size="18" font-weight="bold" fill="#e0202a" text-anchor="start" stroke="#e0202a" stroke-width="0.5">+ 0.1 M HClO<tspan font-size="11" dy="5.5">4</tspan></text>
<text transform="translate(170.5,178.7) scale(1.045,1)" font-size="18" font-weight="bold" fill="#2018d0" text-anchor="start" stroke="#2018d0" stroke-width="0.5">0.1 M HCOOH</text>
<text transform="translate(170.5,202.4) scale(1.045,1)" font-size="18" font-weight="bold" fill="#2018d0" text-anchor="start" stroke="#2018d0" stroke-width="0.5">+ 0.1 M Py</text>
<text transform="translate(170.5,226) scale(1.045,1)" font-size="18" font-weight="bold" fill="#2018d0" text-anchor="start" stroke="#2018d0" stroke-width="0.5">+ 0.2 M HClO<tspan font-size="11" dy="5.5">4</tspan></text>
<text transform="translate(170.5,253.3) scale(1.045,1)" font-size="18" font-weight="bold" fill="#111" text-anchor="start" stroke="#111" stroke-width="0.5">pH 1</text>
<text transform="translate(170.5,279.8) scale(1.045,1)" font-size="18" font-weight="bold" fill="#111" text-anchor="start" stroke="#111" stroke-width="0.5">10 mV s<tspan font-size="10.5" dx="0.5" dy="-7.3">-1</tspan></text>
<text transform="translate(399.3,314.1) scale(1.045,1)" font-size="18" font-weight="bold" fill="#111" text-anchor="start" stroke="#111" stroke-width="0.5">0.1 M Py</text>
<text transform="translate(399.3,337.6) scale(1.045,1)" font-size="18" font-weight="bold" fill="#111" text-anchor="start" stroke="#111" stroke-width="0.5">+ 0.2 M HClO<tspan font-size="11" dy="5.5">4</tspan></text>
<line x1="762.5" y1="352.6" x2="1211.8" y2="352.6" stroke="#6a6a6a" stroke-width="2.2"/>
<line x1="762.5" y1="56.1" x2="762.5" y2="419.4" stroke="#707070" stroke-width="2.9"/>
<line x1="761.3" y1="418.2" x2="1213" y2="418.2" stroke="#6a6a6a" stroke-width="2.8"/>
<line x1="761.3" y1="57.3" x2="1213" y2="57.3" stroke="#525252" stroke-width="2.5"/>
<line x1="1211.8" y1="56.1" x2="1211.8" y2="419.4" stroke="#484848" stroke-width="2.3"/>
<path d="M762.5,418.2v7M762.5,57.3v6.5M822.4,418.2v7M822.4,57.3v6.5M882.3,418.2v7M882.3,57.3v6.5M942.2,418.2v7M942.2,57.3v6.5M1002.1,418.2v7M1002.1,57.3v6.5M1062,418.2v7M1062,57.3v6.5M1121.9,418.2v7M1121.9,57.3v6.5M1181.8,418.2v7M1181.8,57.3v6.5M792.5,418.2v4M792.5,57.3v3.5M852.4,418.2v4M852.4,57.3v3.5M912.3,418.2v4M912.3,57.3v3.5M972.2,418.2v4M972.2,57.3v3.5M1032.1,418.2v4M1032.1,57.3v3.5M1092,418.2v4M1092,57.3v3.5M1151.9,418.2v4M1151.9,57.3v3.5M762.5,418.2h-7M762.5,352.6h-7M762.5,287h-7M762.5,221.3h-7M762.5,155.7h-7M762.5,90.1h-7M762.5,385.4h-4M762.5,319.8h-4M762.5,254.2h-4M762.5,188.5h-4M762.5,122.9h-4M1211.8,418.2h7M1211.8,352.6h7M1211.8,287h7M1211.8,221.3h7M1211.8,155.7h7M1211.8,90.1h7M1211.8,385.4h4M1211.8,319.8h4M1211.8,254.2h4M1211.8,188.5h4M1211.8,122.9h4" stroke="#505050" stroke-width="2.2" fill="none"/>
<text x="762.5" y="445.7" font-size="19" font-weight="normal" fill="#2a2a2a" text-anchor="middle" stroke="#2a2a2a" stroke-width="0.45">-0.8</text>
<text x="822.4" y="445.7" font-size="19" font-weight="normal" fill="#2a2a2a" text-anchor="middle" stroke="#2a2a2a" stroke-width="0.45">-0.6</text>
<text x="882.3" y="445.7" font-size="19" font-weight="normal" fill="#2a2a2a" text-anchor="middle" stroke="#2a2a2a" stroke-width="0.45">-0.4</text>
<text x="942.2" y="445.7" font-size="19" font-weight="normal" fill="#2a2a2a" text-anchor="middle" stroke="#2a2a2a" stroke-width="0.45">-0.2</text>
<text x="1002.1" y="445.7" font-size="19" font-weight="normal" fill="#2a2a2a" text-anchor="middle" stroke="#2a2a2a" stroke-width="0.45">0.0</text>
<text x="1062" y="445.7" font-size="19" font-weight="normal" fill="#2a2a2a" text-anchor="middle" stroke="#2a2a2a" stroke-width="0.45">0.2</text>
<text x="1121.9" y="445.7" font-size="19" font-weight="normal" fill="#2a2a2a" text-anchor="middle" stroke="#2a2a2a" stroke-width="0.45">0.4</text>
<text x="1181.8" y="445.7" font-size="19" font-weight="normal" fill="#2a2a2a" text-anchor="middle" stroke="#2a2a2a" stroke-width="0.45">0.6</text>
<text x="750" y="423.8" font-size="19" font-weight="normal" fill="#2a2a2a" text-anchor="end" stroke="#2a2a2a" stroke-width="0.45">-100</text>
<text x="750" y="358.2" font-size="19" font-weight="normal" fill="#2a2a2a" text-anchor="end" stroke="#2a2a2a" stroke-width="0.45">0</text>
<text x="750" y="292.6" font-size="19" font-weight="normal" fill="#2a2a2a" text-anchor="end" stroke="#2a2a2a" stroke-width="0.45">100</text>
<text x="750" y="226.9" font-size="19" font-weight="normal" fill="#2a2a2a" text-anchor="end" stroke="#2a2a2a" stroke-width="0.45">200</text>
<text x="750" y="161.3" font-size="19" font-weight="normal" fill="#2a2a2a" text-anchor="end" stroke="#2a2a2a" stroke-width="0.45">300</text>
<text x="750" y="95.7" font-size="19" font-weight="normal" fill="#2a2a2a" text-anchor="end" stroke="#2a2a2a" stroke-width="0.45">400</text>
<text x="1223.3" y="423.8" font-size="19" font-weight="normal" fill="#2a2a2a" text-anchor="start" stroke="#2a2a2a" stroke-width="0.45">-5</text>
<text x="1223.3" y="358.2" font-size="19" font-weight="normal" fill="#2a2a2a" text-anchor="start" stroke="#2a2a2a" stroke-width="0.45">0</text>
<text x="1223.3" y="292.6" font-size="19" font-weight="normal" fill="#2a2a2a" text-anchor="start" stroke="#2a2a2a" stroke-width="0.45">5</text>
<text x="1223.3" y="226.9" font-size="19" font-weight="normal" fill="#2a2a2a" text-anchor="start" stroke="#2a2a2a" stroke-width="0.45">10</text>
<text x="1223.3" y="161.3" font-size="19" font-weight="normal" fill="#2a2a2a" text-anchor="start" stroke="#2a2a2a" stroke-width="0.45">15</text>
<text x="1223.3" y="95.7" font-size="19" font-weight="normal" fill="#2a2a2a" text-anchor="start" stroke="#2a2a2a" stroke-width="0.45">20</text>
<text transform="translate(695.3,278) rotate(-90)" font-size="22" fill="#1a1a1a"><tspan font-style="italic">j</tspan> / &#956;A cm<tspan font-size="15" dy="-10">-2</tspan></text>
<text transform="translate(1275.2,288.5) rotate(-90)" font-size="22" fill="#1a1a1a"><tspan font-style="italic">j</tspan> / &#956;A cm<tspan font-size="15" dy="-10">-2</tspan></text>
<text x="919.7" y="478.4" font-size="22" fill="#1a1a1a"><tspan font-style="italic">E</tspan> / V vs. MSE</text>
<path d="M778,352.2L779.5,352.2L781,352.2L782.5,352.2L784,352.2L785.5,352.2L787,352.2L788.5,352.2L790,352.2L791.5,352.2L793,352.2L794.5,352.2L796,352.2L797.5,352.1L799,352.1L800.6,352.1L802.1,352.1L803.6,352.1L805.1,352.1L806.6,352.1L808.1,352.1L809.6,352.1L811.1,352.1L812.6,352.1L814.1,352.1L815.6,352.1L817.1,352.1L818.6,352.1L820.1,352.1L821.6,352.1L823.1,352.1L824.6,352.1L826.1,352.1L827.6,352.1L829.1,352.1L830.6,352.1L832.1,352.1L833.6,352.1L835.1,352.1L836.6,352.1L838.1,352.1L839.6,352.1L841.1,352.1L842.7,352.1L844.2,352.1L845.7,352.1L847.2,352.1L848.7,352.1L850.2,352.1L851.7,352.1L853.2,352L854.7,352L856.2,352L857.7,352L859.2,352L860.7,352L862.2,352L863.7,352L865.2,352L866.7,352L868.2,351.9L869.7,351.9L871.2,351.9L872.7,351.9L874.2,351.9L875.7,351.9L877.2,351.8L878.7,351.8L880.2,351.8L881.7,351.8L883.2,351.7L884.7,351.7L886.2,351.7L887.8,351.7L889.3,351.6L890.8,351.6L892.3,351.6L893.8,351.5L895.3,351.5L896.8,351.4L898.3,351.4L899.8,351.3L901.3,351.2L902.8,351.1L904.3,351L905.8,350.9L907.3,350.8L908.8,350.7L910.3,350.6L911.8,350.5L913.3,350.3L914.8,350.1L916.2,349.9L917.7,349.6L919.2,349.3L920.6,348.9L922.1,348.5L923.5,348L924.9,347.5L926.3,346.9L927.6,346.2L928.9,345.5L930.2,344.7L931.5,343.9L932.7,343L933.9,342.1L935.1,341.2L936.2,340.2L937.4,339.2L938.5,338.2L939.5,337.1L940.6,336.1L941.6,335L942.6,333.8L943.5,332.6L944.3,331.4L945.1,330.1L945.8,328.8L946.4,327.4L947.1,326L947.7,324.7L948.3,323.3L948.9,321.9L949.5,320.5L950,319.1L950.6,317.8L951.2,316.4L951.7,315L952.2,313.5L952.7,312.1L953.2,310.7L953.7,309.3L954.2,307.9L954.6,306.4L955.1,305L955.5,303.5L955.9,302.1L956.3,300.6L956.7,299.2L957.1,297.7L957.5,296.3L957.8,294.8L958.2,293.4L958.5,291.9L958.9,290.4L959.2,289L959.6,287.5L959.9,286.1L960.3,284.6L960.6,283.1L960.9,281.7L961.3,280.2L961.6,278.7L961.9,277.3L962.2,275.8L962.5,274.3L962.8,272.8L963.1,271.4L963.4,269.9L963.7,268.4L964,266.9L964.3,265.5L964.6,264L964.9,262.5L965.2,261L965.5,259.6L965.8,258.1L966.1,256.6L966.4,255.1L966.6,253.7L966.9,252.2L967.2,250.7L967.5,249.2L967.8,247.8L968.1,246.3L968.4,244.8L968.6,243.3L968.9,241.9L969.2,240.4L969.5,238.9L969.8,237.4L970.1,236L970.4,234.5L970.7,233L971,231.5L971.3,230.1L971.6,228.6L971.9,227.1L972.2,225.6L972.4,224.2L972.7,222.7L973,221.2L973.3,219.7L973.6,218.3L973.9,216.8L974.2,215.3L974.5,213.8L974.8,212.4L975.1,210.9L975.5,209.4L975.8,208L976.1,206.5L976.4,205L976.7,203.5L977,202.1L977.3,200.6L977.6,199.1L977.9,197.7L978.2,196.2L978.6,194.7L978.9,193.3L979.2,191.8L979.5,190.3L979.8,188.8L980.1,187.4L980.4,185.9L980.7,184.4L981,182.9L981.3,181.5L981.6,180L981.9,178.5L982.2,177.1L982.5,175.6L982.9,174.1L983.2,172.7L983.5,171.2L983.9,169.7L984.2,168.3L984.6,166.8L985,165.4L985.4,163.9L985.8,162.4L986.2,161L986.6,159.6L987,158.1L987.4,156.6L987.7,155.2L988.1,153.7L988.5,152.3L988.8,150.8L989.2,149.4L989.5,147.9L989.8,146.4L990.1,144.9L990.3,143.5L990.6,142L990.9,140.5L991.1,139L991.4,137.5L991.6,136.1L991.9,134.6L992.1,133.1L992.3,131.6L992.5,130.1L992.8,128.6L993,127.1L993.2,125.6L993.5,124.2L993.8,122.7L994.1,121.2L994.5,119.8L994.8,118.3L995.3,116.9L995.7,115.4L996.1,114L996.6,112.6L997.1,111.1L997.6,109.7L998.1,108.3L998.7,106.9L999.2,105.5L999.8,104.1L1000.4,102.8L1001,101.4L1001.7,100L1002.3,98.7L1003,97.3L1003.7,96L1004.4,94.7L1005.2,93.4L1006,92.1L1006.8,90.8L1007.6,89.6L1008.5,88.4L1009.4,87.2L1010.4,86.1L1011.4,85L1012.5,83.9L1013.6,82.9L1014.8,82L1016,81.1L1017.2,80.2L1018.5,79.4L1019.8,78.7L1021.1,78L1022.5,77.4L1023.9,76.8L1025.3,76.3L1026.8,75.9L1028.2,75.5L1029.7,75.2L1031.2,75L1032.6,74.9L1034.1,74.9L1035.6,74.9L1037.1,75.1L1038.6,75.4L1040.1,75.7L1041.5,76.1L1043,76.5L1044.4,77L1045.8,77.6L1047.2,78.1L1048.5,78.8L1049.9,79.5L1051.2,80.2L1052.5,81L1053.7,81.8L1055,82.6L1056.2,83.5L1057.4,84.4L1058.5,85.4L1059.7,86.3L1060.8,87.3L1062,88.3L1063.1,89.3L1064.2,90.3L1065.3,91.3L1066.4,92.3L1067.5,93.4L1068.6,94.5L1069.6,95.5L1070.7,96.6L1071.7,97.7L1072.7,98.8L1073.7,99.9L1074.7,101L1075.7,102.1L1076.7,103.3L1077.7,104.4L1078.7,105.5L1079.7,106.7L1080.7,107.8L1081.6,109L1082.6,110.1L1083.5,111.3L1084.5,112.5L1085.4,113.6L1086.4,114.8L1087.4,115.9L1088.3,117.1L1089.3,118.3L1090.2,119.4L1091.2,120.6L1092.2,121.7L1093.1,122.9L1094.1,124L1095,125.2L1096,126.4L1096.9,127.5L1097.9,128.7L1098.8,129.9L1099.8,131L1100.7,132.2L1101.7,133.4L1102.6,134.5L1103.6,135.7L1104.5,136.9L1105.5,138L1106.4,139.2L1107.4,140.4L1108.3,141.5L1109.2,142.7L1110.2,143.9L1111.1,145.1L1112,146.3L1112.9,147.5L1113.8,148.7L1114.7,149.9L1115.6,151.1L1116.5,152.3L1117.4,153.5L1118.3,154.8L1119.1,156L1120,157.2L1120.9,158.4L1121.8,159.6L1122.6,160.9L1123.5,162.1L1124.4,163.3L1125.2,164.5L1126.1,165.8L1127,167L1127.8,168.2L1128.7,169.5L1129.5,170.7L1130.4,172L1131.2,173.2L1132.1,174.4L1132.9,175.7L1133.8,176.9L1134.6,178.2L1135.5,179.4L1136.3,180.7L1137.1,181.9L1138,183.2L1138.8,184.4L1139.6,185.7L1140.4,186.9L1141.3,188.2L1142.1,189.5L1142.9,190.7L1143.7,192L1144.6,193.2L1145.4,194.4L1146.3,195.7L1147.2,196.8L1148.2,198L1151.5,183.9L1152.4,185.1L1153.3,186.3L1154.2,187.6L1155.1,188.8L1155.9,190.1L1156.7,191.5L1157.4,192.8L1158,194.2L1158.6,195.6L1159.2,197L1159.8,198.4L1160.4,199.9L1160.9,201.3L1161.5,202.7L1162.1,204.1L1162.7,205.5L1163.3,206.9L1163.9,208.3L1164.5,209.8L1165.1,211.2L1165.7,212.6L1166.3,214L1166.8,215.4L1167.4,216.8L1168,218.2L1168.6,219.6L1169.2,221L1169.8,222.5L1170.4,223.9L1171,225.3L1171.6,226.7L1172.2,228.1L1172.8,229.5L1173.3,230.9L1173.9,232.3L1174.5,233.8L1175.1,235.2L1175.7,236.6L1176.3,238L1176.9,239.4L1177.5,240.8L1178.1,242.2L1178.6,243.6L1179.2,245.1L1179.8,246.5L1180.4,247.9L1181,249.3L1181.3,250" fill="none" stroke="#1414d8" stroke-width="2.8" stroke-linejoin="round" stroke-linecap="round"/>
<path d="M778,352.4L779.5,352.4L781,352.4L782.5,352.4L784,352.4L785.5,352.4L787,352.4L788.5,352.4L790,352.4L791.5,352.4L793,352.4L794.5,352.4L796,352.4L797.5,352.4L799,352.4L800.5,352.4L802.1,352.4L803.6,352.4L805.1,352.4L806.6,352.4L808.1,352.4L809.6,352.4L811.1,352.4L812.6,352.4L814.1,352.4L815.6,352.4L817.1,352.4L818.6,352.4L820.1,352.4L821.6,352.4L823.1,352.4L824.6,352.4L826.1,352.4L827.6,352.4L829.1,352.4L830.6,352.4L832.1,352.4L833.6,352.4L835.1,352.4L836.6,352.4L838.1,352.4L839.6,352.4L841.1,352.4L842.6,352.4L844.1,352.4L845.6,352.4L847.2,352.4L848.7,352.4L850.2,352.4L851.7,352.4L853.2,352.4L854.7,352.4L856.2,352.4L857.7,352.4L859.2,352.4L860.7,352.4L862.2,352.4L863.7,352.4L865.2,352.4L866.7,352.4L868.2,352.4L869.7,352.4L871.2,352.4L872.7,352.4L874.2,352.4L875.7,352.4L877.2,352.4L878.7,352.3L880.2,352.3L881.7,352.3L883.2,352.3L884.7,352.3L886.2,352.3L887.7,352.3L889.2,352.3L890.7,352.3L892.3,352.3L893.8,352.3L895.3,352.3L896.8,352.2L898.3,352.2L899.8,352.2L901.3,352.2L902.8,352.2L904.3,352.1L905.8,352.1L907.3,352.1L908.8,352.1L910.3,352.1L911.8,352.1L913.3,352L914.8,352L916.3,352L917.8,351.9L919.3,351.9L920.8,351.8L922.3,351.7L923.8,351.7L925.3,351.6L926.8,351.5L928.3,351.3L929.8,351.2L931.3,351.1L932.8,350.9L934.3,350.7L935.8,350.5L937.3,350.3L938.7,350.1L940.2,349.8L941.7,349.5L943.1,349.1L944.5,348.6L945.9,348L947.3,347.3L948.6,346.6L949.8,345.7L951,344.8L952,343.8L953,342.6L953.9,341.5L954.8,340.2L955.5,338.9L956.2,337.6L956.9,336.2L957.5,334.9L958.1,333.5L958.6,332.1L959.1,330.7L959.6,329.2L960,327.8L960.4,326.3L960.8,324.9L961.3,323.5L961.7,322L962.1,320.6L962.6,319.2L963.1,317.7L963.6,316.3L964.1,314.9L964.6,313.5L965.1,312L965.6,310.6L966,309.2L966.5,307.8L967,306.4L967.5,304.9L967.9,303.5L968.3,302L968.7,300.6L969.1,299.1L969.5,297.7L969.8,296.2L970.1,294.7L970.4,293.3L970.7,291.8L971,290.3L971.3,288.8L971.5,287.4L971.8,285.9L972.1,284.4L972.3,282.9L972.6,281.4L972.9,280L973.1,278.5L973.4,277L973.7,275.5L974,274.1L974.3,272.6L974.7,271.1L975,269.7L975.4,268.2L975.9,266.8L976.4,265.4L976.9,264L977.4,262.5L977.8,261.1L978.2,259.7L978.6,258.2L978.9,256.7L979.1,255.3L979.3,253.8L979.4,252.3L979.6,250.8L979.7,249.3L979.8,247.8L979.9,246.3L980,244.8L980.1,243.3L980.2,241.8L980.3,240.3L980.4,238.8L980.6,237.3L980.7,235.8L980.9,234.3L981,232.8L981.2,231.3L981.3,229.8L981.5,228.3L981.6,226.8L981.8,225.3L982,223.8L982.1,222.3L982.3,220.8L982.4,219.3L982.5,217.8L982.7,216.3L982.8,214.8L982.9,213.3L983,211.8L983.2,210.3L983.3,208.8L983.4,207.3L983.5,205.8L983.6,204.3L983.6,202.8L983.7,201.3L983.8,199.8L984,198.3L984.1,196.8L984.2,195.3L984.3,193.8L984.4,192.3L984.5,190.9L984.7,189.4L984.8,187.9L984.9,186.4L985.1,184.9L985.2,183.4L985.3,181.9L985.5,180.4L985.6,178.9L985.8,177.4L985.9,175.9L986.1,174.4L986.2,172.9L986.4,171.4L986.5,169.9L986.7,168.4L986.8,166.9L987,165.4L987.1,163.9L987.3,162.4L987.4,160.9L987.6,159.4L987.8,157.9L988,156.4L988.2,155L988.4,153.5L988.7,152L989,150.5L989.3,149.1L989.7,147.6L990,146.1L990.4,144.7L990.7,143.2L991,141.7L991.4,140.3L991.7,138.8L992,137.3L992.4,135.9L992.7,134.4L993,132.9L993.4,131.5L993.8,130L994.1,128.6L994.5,127.1L994.9,125.7L995.3,124.2L995.7,122.8L996.2,121.3L996.6,119.9L997,118.5L997.5,117L997.9,115.6L998.4,114.2L998.9,112.7L999.5,111.4L1000.1,110L1000.7,108.6L1001.4,107.3L1002.2,106L1002.9,104.7L1003.7,103.4L1004.5,102.2L1005.4,100.9L1006.2,99.7L1007.1,98.4L1008,97.2L1008.9,96L1009.8,94.9L1010.8,93.8L1011.9,92.7L1013,91.6L1014.1,90.6L1015.2,89.7L1016.4,88.8L1017.7,87.9L1018.9,87.1L1020.2,86.4L1021.6,85.7L1022.9,85L1024.3,84.4L1025.7,83.9L1027.1,83.3L1028.5,82.9L1030,82.4L1031.4,82L1032.9,81.7L1034.4,81.5L1035.9,81.3L1037.3,81.2L1038.8,81.2L1040.3,81.3L1041.8,81.5L1043.3,81.7L1044.8,82L1046.3,82.3L1047.7,82.7L1049.1,83.1L1050.6,83.6L1052,84.2L1053.3,84.8L1054.7,85.4L1056,86.1L1057.4,86.8L1058.6,87.6L1059.9,88.4L1061.2,89.2L1062.4,90.1L1063.6,91L1064.8,91.9L1066,92.8L1067.1,93.8L1068.3,94.8L1069.4,95.8L1070.5,96.8L1071.5,97.9L1072.6,98.9L1073.7,100L1074.7,101.1L1075.7,102.2L1076.8,103.3L1077.8,104.4L1078.8,105.5L1079.7,106.7L1080.7,107.8L1081.7,109L1082.6,110.1L1083.6,111.3L1084.5,112.5L1085.5,113.6L1086.4,114.8L1087.4,115.9L1088.3,117.1L1089.3,118.3L1090.3,119.4L1091.2,120.6L1092.2,121.7L1093.1,122.9L1094.1,124.1L1095,125.2L1096,126.4L1096.9,127.5L1097.9,128.7L1098.8,129.9L1099.8,131L1100.7,132.2L1101.7,133.4L1102.6,134.5L1103.6,135.7L1104.5,136.9L1105.5,138L1106.4,139.2L1107.4,140.4L1108.3,141.6L1109.2,142.7L1110.2,143.9L1111.1,145.1L1112,146.3L1112.9,147.5L1113.8,148.7L1114.7,149.9L1115.6,151.1L1116.5,152.3L1117.4,153.5L1118.3,154.8L1119.1,156L1120,157.2L1120.9,158.4L1121.8,159.6L1122.6,160.9L1123.5,162.1L1124.4,163.3L1125.2,164.5L1126.1,165.8L1127,167L1127.8,168.2L1128.7,169.5L1129.5,170.7L1130.4,172L1131.2,173.2L1132.1,174.4L1132.9,175.7L1133.8,176.9L1134.6,178.2L1135.5,179.4L1136.3,180.7L1137.1,181.9L1138,183.2L1138.8,184.4L1139.6,185.7L1140.4,186.9L1141.3,188.2L1142.1,189.5L1142.9,190.7L1143.7,192L1144.6,193.2L1145.4,194.4L1146.3,195.7L1147.2,196.8L1148.2,198L1151.5,183.9L1152.4,185.1L1153.3,186.3L1154.2,187.6L1155.1,188.8L1155.9,190.1L1156.7,191.5L1157.4,192.8L1158,194.2L1158.6,195.6L1159.2,197L1159.8,198.4L1160.4,199.9L1160.9,201.3L1161.5,202.7L1162.1,204.1L1162.7,205.5L1163.3,206.9L1163.9,208.3L1164.5,209.8L1165.1,211.2L1165.7,212.6L1166.3,214L1166.8,215.4L1167.4,216.8L1168,218.2L1168.6,219.6L1169.2,221L1169.8,222.5L1170.4,223.9L1171,225.3L1171.6,226.7L1172.2,228.1L1172.8,229.5L1173.3,230.9L1173.9,232.3L1174.5,233.8L1175.1,235.2L1175.7,236.6L1176.3,238L1176.9,239.4L1177.5,240.8L1178.1,242.2L1178.6,243.6L1179.2,245.1L1179.8,246.5L1180.4,247.9L1181,249.3L1181.3,250" fill="none" stroke="#1414d8" stroke-width="2.8" stroke-linejoin="round" stroke-linecap="round"/>
<path d="M778,352.8L779.5,352.8L781,352.8L782.5,352.8L784,352.8L785.5,352.8L787,352.8L788.5,352.8L790,352.8L791.5,352.8L793,352.8L794.5,352.8L796.1,352.8L797.6,352.8L799.1,352.8L800.6,352.8L802.1,352.8L803.6,352.8L805.1,352.8L806.6,352.8L808.1,352.8L809.6,352.8L811.1,352.8L812.6,352.8L814.1,352.8L815.6,352.8L817.1,352.8L818.6,352.8L820.1,352.8L821.6,352.8L823.1,352.8L824.6,352.8L826.1,352.8L827.6,352.8L829.2,352.8L830.7,352.8L832.2,352.8L833.7,352.8L835.2,352.8L836.7,352.8L838.2,352.8L839.7,352.8L841.2,352.8L842.7,352.8L844.2,352.8L845.7,352.8L847.2,352.8L848.7,352.8L850.2,352.9L851.7,352.9L853.2,352.9L854.7,352.9L856.2,352.9L857.7,352.9L859.2,352.8L860.7,352.8L862.3,352.8L863.8,352.8L865.3,352.8L866.8,352.8L868.3,352.8L869.8,352.8L871.3,352.8L872.8,352.8L874.3,352.8L875.8,352.8L877.3,352.8L878.8,352.8L880.3,352.8L881.8,352.8L883.3,352.8L884.8,352.8L886.3,352.8L887.8,352.8L889.3,352.7L890.8,352.7L892.3,352.7L893.8,352.7L895.4,352.7L896.9,352.7L898.4,352.6L899.9,352.6L901.4,352.6L902.9,352.6L904.4,352.6L905.9,352.6L907.4,352.6L908.9,352.6L910.4,352.6L911.9,352.6L913.4,352.6L914.9,352.5L916.4,352.4L917.9,352.3L919.4,352.2L920.9,351.9L922.4,351.7L923.8,351.3L925.3,350.9L926.7,350.5L928.1,350L929.5,349.5L930.9,348.9L932.3,348.3L933.7,347.7L935.1,347.1L936.5,346.6L937.9,346L939.2,345.4L940.6,344.7L941.9,343.9L943.1,343.1L944.3,342.2L945.4,341.2L946.5,340.1L947.5,339L948.4,337.8L949.3,336.6L950.2,335.4L951,334.2L951.9,332.9L952.7,331.6L953.5,330.4L954.3,329.1L955.1,327.8L955.8,326.5L956.5,325.2L957.3,323.9L957.9,322.5L958.6,321.2L959.1,319.8L959.7,318.4L960.1,316.9L960.6,315.5L961,314.1L961.4,312.6L961.8,311.2L962.2,309.7L962.6,308.2L963,306.8L963.4,305.3L963.8,303.9L964.2,302.4L964.6,301L965.1,299.6L965.5,298.1L966,296.7L966.5,295.3L966.9,293.9L967.4,292.4L967.9,291L968.4,289.6L968.9,288.2L969.4,286.7L969.9,285.3L970.4,283.9L970.8,282.5L971.3,281L971.8,279.6L972.2,278.2L972.7,276.7L973.2,275.3L973.6,273.9L974.1,272.4L974.6,271L975,269.6L975.5,268.2L976,266.7L976.5,265.3L977,263.9L977.5,262.5L977.9,261L978.4,259.6L978.9,258.2L979.4,256.8L979.9,255.3L980.4,253.9L980.8,252.5L981.3,251.1L981.7,249.6L982.2,248.2L982.7,246.8L983.1,245.3L983.6,243.9L984.1,242.5L984.6,241.1L985.1,239.7L985.7,238.3L986.2,236.9L986.8,235.5L987.4,234.1L988,232.7L988.6,231.3L989.2,229.9L989.8,228.6L990.4,227.2L991,225.8L991.7,224.4L992.3,223.1L992.9,221.7L993.6,220.4L994.2,219L994.8,217.6L995.5,216.3L996.1,214.9L996.8,213.6L997.4,212.2L998.1,210.8L998.7,209.5L999.4,208.1L1000.1,206.8L1000.7,205.4L1001.5,204.1L1002.2,202.8L1003,201.5L1003.8,200.2L1004.6,199L1005.4,197.7L1006.2,196.5L1007.1,195.2L1008,194L1008.9,192.8L1009.8,191.6L1010.8,190.5L1011.7,189.3L1012.7,188.2L1013.7,187.1L1014.8,186L1015.8,184.9L1016.8,183.8L1017.9,182.7L1019,181.7L1020.1,180.6L1021.2,179.6L1022.3,178.7L1023.5,177.7L1024.7,176.9L1026,176.1L1027.3,175.3L1028.7,174.7L1030,174.1L1031.4,173.5L1032.8,173L1034.3,172.6L1035.7,172.2L1037.2,171.9L1038.7,171.6L1040.2,171.4L1041.7,171.3L1043.2,171.3L1044.7,171.3L1046.2,171.5L1047.7,171.6L1049.1,171.9L1050.6,172.1L1052.1,172.4L1053.6,172.8L1055,173.1L1056.5,173.5L1057.9,173.9L1059.4,174.4L1060.8,174.9L1062.2,175.4L1063.6,176L1065,176.5L1066.4,177.1L1067.7,177.7L1069.1,178.3L1070.5,178.9L1071.9,179.5L1073.3,180.1L1074.7,180.7L1076,181.3L1077.4,181.9L1078.8,182.5L1080.2,183.1L1081.5,183.7L1082.9,184.3L1084.3,185L1085.6,185.6L1087,186.2L1088.4,186.8L1089.7,187.5L1091.1,188.1L1092.5,188.7L1093.8,189.4L1095.2,190L1096.6,190.6L1097.9,191.3L1099.3,191.9L1100.7,192.5L1102,193.2L1103.4,193.8L1104.7,194.5L1106.1,195.2L1107.4,195.8L1108.8,196.5L1110.1,197.2L1111.4,197.9L1112.7,198.6L1114.1,199.4L1115.4,200.1L1116.7,200.9L1118,201.6L1119.3,202.4L1120.6,203.1L1121.9,203.9L1123.2,204.7L1124.5,205.4L1125.8,206.2L1127.1,206.9L1128.4,207.7L1129.7,208.4L1131,209.2L1132.3,209.9L1133.6,210.7L1134.9,211.5L1136.2,212.2L1137.5,213L1138.8,213.7L1140.1,214.5L1141.4,215.2L1142.7,216L1144,216.7L1145.3,217.4L1146.7,218L1148.1,218.6L1149.5,219.1L1153.5,199.5L1154.9,200.2L1156.2,200.9L1157.4,201.8L1158.4,202.9L1159.3,204.1L1160.1,205.4L1160.9,206.7L1161.6,208.1L1162.3,209.5L1163,210.8L1163.7,212.2L1164.4,213.6L1165,215L1165.7,216.3L1166.4,217.7L1167,219.1L1167.7,220.5L1168.3,221.9L1169,223.3L1169.6,224.7L1170.2,226.1L1170.9,227.5L1171.5,228.9L1172.2,230.3L1172.8,231.6L1173.4,233L1174.1,234.4L1174.7,235.8L1175.3,237.2L1176,238.6L1176.6,240L1177.2,241.4L1177.9,242.8L1178.5,244.2L1179.2,245.6L1179.8,247L1180.4,248.4L1181.1,249.8L1181.4,250.5" fill="none" stroke="#e81c24" stroke-width="2.8" stroke-linejoin="round" stroke-linecap="round"/>
<path d="M778,353L779.5,353L781,353L782.5,353L784,353L785.5,353L787,353L788.5,353L790,353L791.5,353L793,353L794.5,353L796.1,353L797.6,353L799.1,353L800.6,353L802.1,353L803.6,353L805.1,353L806.6,353L808.1,353L809.6,353L811.1,353L812.6,353L814.1,353L815.6,353L817.1,353L818.6,353L820.1,353L821.6,353L823.1,353L824.6,353L826.1,353L827.6,353L829.1,353L830.7,353L832.2,353L833.7,353L835.2,353L836.7,353L838.2,353L839.7,353.1L841.2,353.1L842.7,353.1L844.2,353.1L845.7,353.1L847.2,353.1L848.7,353.1L850.2,353.1L851.7,353.1L853.2,353.1L854.7,353.1L856.2,353.1L857.7,353.1L859.2,353.1L860.7,353.1L862.2,353.1L863.7,353.1L865.2,353.1L866.8,353.1L868.3,353.1L869.8,353.1L871.3,353.1L872.8,353.1L874.3,353.1L875.8,353.1L877.3,353.1L878.8,353.1L880.3,353.1L881.8,353.1L883.3,353.1L884.8,353.1L886.3,353.1L887.8,353.1L889.3,353.1L890.8,353.1L892.3,353.1L893.8,353.1L895.3,353.1L896.8,353.1L898.3,353L899.8,353L901.4,353L902.9,353L904.4,353L905.9,353L907.4,353L908.9,353L910.4,353L911.9,353L913.4,353L914.9,353L916.4,352.9L917.9,352.9L919.4,352.9L920.9,352.9L922.4,352.9L923.9,352.9L925.4,352.9L926.9,352.9L928.4,352.9L929.9,352.9L931.4,352.9L932.9,352.8L934.4,352.8L935.9,352.6L937.4,352.4L938.9,352.2L940.4,351.9L941.8,351.5L943.3,351.1L944.7,350.6L946.1,350L947.4,349.4L948.7,348.7L950,347.9L951.2,347L952.4,346.1L953.6,345.1L954.7,344.1L955.8,343.1L956.8,342L957.8,340.8L958.7,339.7L959.6,338.5L960.5,337.3L961.4,336L962.3,334.8L963.1,333.6L964,332.3L964.9,331.1L965.7,329.9L966.6,328.6L967.4,327.4L968.3,326.1L969.1,324.9L969.8,323.6L970.5,322.3L971.2,320.9L971.8,319.5L972.4,318.2L972.9,316.7L973.4,315.3L973.9,313.9L974.3,312.5L974.7,311L975.1,309.5L975.4,308.1L975.8,306.6L976.2,305.2L976.5,303.7L976.9,302.2L977.2,300.8L977.6,299.3L977.9,297.9L978.3,296.4L978.6,294.9L978.9,293.5L979.3,292L979.6,290.5L979.9,289L980.2,287.6L980.5,286.1L980.8,284.6L981.1,283.2L981.4,281.7L981.7,280.2L982,278.7L982.3,277.3L982.6,275.8L982.9,274.3L983.2,272.8L983.5,271.4L983.8,269.9L984.1,268.4L984.4,266.9L984.7,265.5L985,264L985.3,262.5L985.6,261L985.8,259.6L986.1,258.1L986.4,256.6L986.7,255.1L987,253.6L987.2,252.2L987.5,250.7L987.8,249.2L988.1,247.7L988.4,246.3L988.7,244.8L989,243.3L989.3,241.8L989.6,240.4L990,238.9L990.3,237.4L990.7,236L991,234.5L991.4,233.1L991.8,231.6L992.2,230.2L992.6,228.7L992.9,227.2L993.3,225.8L993.6,224.3L993.9,222.8L994.3,221.4L994.6,219.9L995,218.5L995.5,217L995.9,215.6L996.5,214.2L997,212.8L997.6,211.4L998.3,210.1L999,208.7L999.7,207.4L1000.4,206.1L1001.1,204.7L1001.8,203.4L1002.6,202.1L1003.4,200.9L1004.2,199.6L1005,198.3L1005.8,197.1L1006.7,195.8L1007.6,194.6L1008.5,193.4L1009.4,192.2L1010.3,191L1011.3,189.9L1012.3,188.7L1013.3,187.6L1014.3,186.5L1015.3,185.4L1016.3,184.3L1017.4,183.2L1018.4,182.2L1019.5,181.1L1020.6,180.1L1021.8,179.1L1022.9,178.2L1024.1,177.3L1025.4,176.5L1026.7,175.7L1028,175L1029.4,174.4L1030.7,173.8L1032.2,173.2L1033.6,172.8L1035,172.4L1036.5,172L1038,171.7L1039.4,171.5L1040.9,171.4L1042.4,171.3L1043.9,171.3L1045.4,171.4L1046.9,171.5L1048.4,171.8L1049.9,172L1051.4,172.3L1052.8,172.6L1054.3,172.9L1055.8,173.3L1057.2,173.7L1058.7,174.1L1060.1,174.6L1061.5,175.1L1062.9,175.7L1064.3,176.2L1065.7,176.8L1067.1,177.4L1068.4,178L1069.8,178.6L1071.2,179.2L1072.6,179.8L1074,180.4L1075.4,181L1076.7,181.6L1078.1,182.2L1079.5,182.8L1080.9,183.4L1082.2,184L1083.6,184.7L1085,185.3L1086.3,185.9L1087.7,186.5L1089.1,187.2L1090.4,187.8L1091.8,188.4L1093.2,189L1094.5,189.7L1095.9,190.3L1097.3,190.9L1098.6,191.6L1100,192.2L1101.3,192.9L1102.7,193.5L1104.1,194.2L1105.4,194.8L1106.8,195.5L1108.1,196.2L1109.4,196.9L1110.8,197.6L1112.1,198.3L1113.4,199L1114.7,199.8L1116,200.5L1117.3,201.2L1118.6,202L1119.9,202.8L1121.2,203.5L1122.5,204.3L1123.8,205L1125.1,205.8L1126.4,206.6L1127.7,207.3L1129,208.1L1130.3,208.8L1131.6,209.6L1132.9,210.3L1134.2,211.1L1135.5,211.8L1136.8,212.6L1138.1,213.4L1139.4,214.1L1140.7,214.9L1142,215.6L1143.4,216.3L1144.7,217L1146,217.7L1147.4,218.3L1148.8,218.9L1149.5,219.1L1153.5,199.5L1154.9,200.2L1156.2,200.9L1157.4,201.8L1158.4,202.9L1159.3,204.1L1160.1,205.4L1160.9,206.7L1161.6,208.1L1162.3,209.5L1163,210.8L1163.7,212.2L1164.4,213.6L1165,215L1165.7,216.3L1166.4,217.7L1167,219.1L1167.7,220.5L1168.3,221.9L1169,223.3L1169.6,224.7L1170.2,226.1L1170.9,227.5L1171.5,228.9L1172.2,230.3L1172.8,231.6L1173.4,233L1174.1,234.4L1174.7,235.8L1175.3,237.2L1176,238.6L1176.6,240L1177.2,241.4L1177.9,242.8L1178.5,244.2L1179.2,245.6L1179.8,247L1180.4,248.4L1181.1,249.8L1181.4,250.5" fill="none" stroke="#e81c24" stroke-width="2.8" stroke-linejoin="round" stroke-linecap="round"/>
<path d="M778.5,350.3L780,350.3L781.5,350.3L783,350.3L784.5,350.3L786,350.3L787.5,350.3L789,350.3L790.5,350.3L792,350.3L793.5,350.3L795.1,350.3L796.6,350.3L798.1,350.3L799.6,350.3L801.1,350.3L802.6,350.3L804.1,350.3L805.6,350.3L807.1,350.3L808.6,350.3L810.1,350.3L811.6,350.3L813.1,350.3L814.6,350.3L816.1,350.3L817.6,350.3L819.1,350.3L820.6,350.3L822.1,350.3L823.6,350.3L825.2,350.3L826.7,350.3L828.2,350.3L829.7,350.3L831.2,350.3L832.7,350.3L834.2,350.3L835.7,350.2L837.2,350.2L838.7,350.2L840.2,350.2L841.7,350.2L843.2,350.2L844.7,350.2L846.2,350.2L847.7,350.2L849.2,350.2L850.7,350.2L852.2,350.2L853.7,350.2L855.3,350.2L856.8,350.2L858.3,350.2L859.8,350.2L861.3,350.2L862.8,350.2L864.3,350.1L865.8,350.1L867.3,350.1L868.8,350.1L870.3,350.1L871.8,350.1L873.3,350.1L874.8,350.1L876.3,350.1L877.8,350.1L879.3,350.1L880.8,350.1L882.3,350.1L883.8,350.1L885.4,350L886.9,350L888.4,350L889.9,350L891.4,350L892.9,349.9L894.4,349.9L895.9,349.9L897.4,349.9L898.9,349.8L900.4,349.8L901.9,349.7L903.4,349.7L904.9,349.6L906.4,349.6L907.9,349.5L909.4,349.5L910.9,349.4L912.4,349.3L913.9,349.3L915.4,349.2L916.9,349.1L918.4,349L919.9,349L921.4,348.9L923,348.8L924.5,348.7L926,348.6L927.5,348.6L929,348.5L930.5,348.4L932,348.3L933.5,348.2L935,348.1L936.5,348L938,347.9L939.5,347.8L941,347.8L942.5,347.7L944,347.5L945.5,347.4L947,347.3L948.5,347.2L950,347.1L951.5,347L953,346.9L954.5,346.8L956,346.6L957.5,346.5L959,346.4L960.5,346.2L962,346L963.5,345.8L965,345.6L966.5,345.4L967.9,345.2L969.4,344.9L970.9,344.5L972.3,344L973.6,343.4L974.9,342.6L976.1,341.7L977.2,340.7L978.2,339.6L979,338.3L979.8,337L980.4,335.6L980.9,334.2L981.2,332.8L981.5,331.3L981.8,329.8L982,328.3L982.2,326.8L982.4,325.3L982.6,323.9L982.8,322.4L982.9,320.9L983.1,319.4L983.2,317.9L983.3,316.4L983.4,314.9L983.5,313.4L983.6,311.9L983.7,310.4L983.9,308.9L984.1,307.4L984.3,305.9L984.6,304.4L985,303L985.7,301.7L986.7,300.9L987.9,300.9L988.9,301.8L989.7,303.1L990.2,304.5L990.6,305.9L991,307.4L991.2,308.9L991.5,310.4L991.7,311.8L992,313.3L992.4,314.8L993,316.1L993.9,317.3L994.8,318.5L995.5,319.8L996,321.2L996.3,322.7L996.5,324.2L996.8,325.6L997,327.1L997.3,328.6L997.5,330.1L997.8,331.6L998,333.1L998.3,334.5L998.7,336L999.2,337.4L999.7,338.8L1000.3,340.2L1001,341.6L1001.8,342.8L1002.8,343.9L1004,344.8L1005.3,345.5L1006.7,346L1008.1,346.5L1009.6,346.9L1011,347.3L1012.5,347.5L1014,347.7L1015.5,347.8L1017,348L1018.5,348.1L1020,348.2L1021.5,348.3L1023,348.3L1024.5,348.4L1026,348.5L1027.5,348.5L1029,348.6L1030.5,348.6L1032,348.7L1033.5,348.7L1035,348.7L1036.6,348.8L1038.1,348.8L1039.6,348.8L1041.1,348.8L1042.6,348.9L1044.1,348.9L1045.6,348.9L1047.1,348.9L1048.6,348.8L1050.1,348.7L1051.5,348.3L1052.8,347.6L1053.9,346.7L1055.1,346.4L1056.3,346.9L1057.5,347.7L1058.8,348.4L1060.2,348.7L1061.7,348.9L1063.2,349L1064.7,349L1066.2,349L1067.7,349L1069.2,349L1070.7,348.9L1072.2,348.9L1073.7,348.8L1075.2,348.6L1076.7,348.5L1078.2,348.3L1079.7,348.1L1081.2,347.8L1082.6,347.4L1084.1,347L1085.5,346.5L1088.2,294.5L1088.2,296L1088.3,297.5L1088.3,299L1088.3,300.6L1088.4,302.1L1088.4,303.6L1088.4,305.1L1088.4,306.6L1088.4,308.1L1088.5,309.6L1088.5,311.2L1088.5,312.7L1088.5,314.2L1088.6,315.7L1088.6,317.2L1088.6,318.7L1088.7,320.2L1088.7,321.8L1088.8,323.3L1088.8,324.8L1088.9,326.3L1089,327.8L1089.1,329.3L1089.3,330.8L1089.4,332.3L1089.6,333.8L1089.8,335.3L1090.1,336.8L1090.4,338.3L1090.8,339.8L1091.3,341.2L1091.9,342.6L1092.7,343.9L1093.7,345L1094.8,345.9L1096.2,346.6L1097.6,347L1099.1,347.4L1100.5,347.7L1102,348L1103.5,348.1L1105,348.3L1106.6,348.4L1108.1,348.5L1109.6,348.5L1111.1,348.5L1112.6,348.5L1114.1,348.5L1115.6,348.5L1117.1,348.6L1118.6,348.9L1120,349.4L1121.3,350.1L1121.8,351.1L1121.3,352.1L1120.1,352.8L1118.7,353.2L1117.2,353.4L1115.7,353.5L1114.2,353.5L1112.7,353.5L1111.2,353.6L1109.7,353.7L1108.2,353.7L1106.6,353.8L1105.1,353.9L1103.6,353.9L1102.1,354L1100.6,354.1L1099.1,354.2L1097.6,354.4L1096.1,354.5L1094.6,354.8L1093.1,355.1L1091.7,355.6L1090.3,356.3L1089,357L1086.6,399.5L1086.6,398L1086.5,396.5L1086.5,395L1086.5,393.4L1086.6,391.9L1086.6,390.4L1086.6,388.9L1086.6,387.4L1086.7,385.9L1086.7,384.3L1086.8,382.8L1086.8,381.3L1086.9,379.8L1086.9,378.3L1086.9,376.8L1086.9,375.3L1087,373.7L1087,372.2L1086.9,370.7L1086.9,369.2L1086.8,367.7L1086.7,366.2L1086.6,364.7L1086.4,363.2L1086.1,361.7L1085.7,360.2L1085.1,358.9L1084.1,357.7L1082.9,356.9L1081.5,356.4L1080.1,356L1078.6,355.7L1077.1,355.5L1075.6,355.4L1074.1,355.3L1072.5,355.2L1071,355.1L1069.5,355.1L1068,355.1L1066.5,355L1065,355L1063.4,355L1061.9,355.1L1060.4,355.1L1058.9,355.1L1057.4,355.1L1055.9,355.2L1054.4,355.2L1052.8,355.2L1051.3,355.2L1049.8,355.1L1048.3,355.1L1046.8,355.2L1045.4,355.5L1044.2,356.3L1043.2,357.3L1042.3,357.7L1041.3,357.2L1040.3,356.2L1039.1,355.4L1037.7,354.9L1036.2,354.6L1034.7,354.4L1033.2,354.2L1031.7,354.1L1030.2,354L1028.6,353.9L1027.1,353.8L1025.6,353.8L1024.1,353.8L1022.6,353.7L1021.1,353.7L1019.6,353.7L1018,353.7L1016.5,353.7L1015,353.8L1013.5,353.8L1012,353.9L1010.5,353.9L1009,354.1L1007.4,354.2L1006,354.4L1004.5,354.7L1003,355L1001.5,355.4L1000,355.8L998.6,356.3L997.2,356.8L995.8,357.5L994.5,358.2L993.3,359.1L992.1,360L991.5,360.5L989.6,379.5L989.5,378L989.5,376.5L989.4,375L989.4,373.5L989.4,372L989.3,370.5L989.2,369L988.9,367.6L988.2,366.6L987.1,366.5L985.8,367.2L984.6,368.1L983.5,369.1L982.5,370.2L981.5,371.3L980.5,372.4L979.4,373.5L978.3,374.5L977,375.2L975.7,375.5L974.3,375.1L973.1,374.3L971.9,373.4L970.8,372.4L969.7,371.4L968.6,370.3L967.6,369.2L966.6,368.1L965.5,367L964.4,366L963.3,365L962.1,364L960.9,363.2L959.6,362.5L958.2,361.9L956.8,361.4L955.3,361L953.9,360.7L952.4,360.4L950.9,360.2L949.4,360L947.9,359.9L946.4,359.7L944.9,359.6L943.4,359.5L941.9,359.4L940.4,359.2L938.9,359.1L937.4,359L935.9,358.8L934.4,358.7L932.9,358.6L931.4,358.5L929.9,358.4L928.4,358.3L926.9,358.2L925.4,358.1L923.9,358L922.4,357.9L920.9,357.8L919.4,357.7L917.9,357.6L916.4,357.5L914.9,357.4L913.3,357.4L911.8,357.3L910.3,357.2L908.8,357.1L907.3,357.1L905.8,357L904.3,356.9L902.8,356.9L901.3,356.8L899.8,356.7L898.3,356.7L896.8,356.6L895.3,356.6L893.8,356.5L892.3,356.5L890.8,356.5L889.3,356.4L887.8,356.4L886.3,356.4L884.8,356.3L883.3,356.3L881.7,356.3L880.2,356.3L878.7,356.2L877.2,356.2L875.7,356.2L874.2,356.2L872.7,356.2L871.2,356.1L869.7,356.1L868.2,356.1L866.7,356.1L865.2,356.1L863.7,356.1L862.2,356.1L860.7,356.1L859.2,356.1L857.7,356.1L856.1,356L854.6,356L853.1,356L851.6,356L850.1,356L848.6,356L847.1,356L845.6,356L844.1,356L842.6,356L841.1,356L839.6,356L838.1,356.1L836.6,356.1L835.1,356.1L833.6,356.1L832.1,356.2L830.6,356.2L829,356.2L827.5,356.2L826,356.3L824.5,356.3L823,356.3L821.5,356.3L820,356.4L818.5,356.4L817,356.4L815.5,356.5L814,356.5L812.5,356.5L811,356.5L809.5,356.6L808,356.6L806.5,356.6L805,356.6L803.4,356.6L801.9,356.6L800.4,356.7L798.9,356.7L797.4,356.7L795.9,356.7L794.4,356.7L792.9,356.7L791.4,356.7L789.9,356.7L788.4,356.6L786.9,356.6L785.4,356.5L783.9,356.5L782.4,356.4L780.9,356.2L779.4,356L778,355.6L776.9,354.7L776.3,353.5L776.4,352.2L777.3,351.1L778.5,350.3" fill="none" stroke="#000" stroke-width="2.6" stroke-linejoin="round" stroke-linecap="round"/>
<line x1="1106.2" y1="379.5" x2="1178.5" y2="379.5" stroke="#000" stroke-width="3.4"/>
<polygon points="1175.5,374.7 1190.5,379.5 1175.5,384.3" fill="#000"/>
<text transform="translate(776.8,98.7) scale(1.05,1)" font-size="30" font-weight="bold" fill="#0a0a0a" text-anchor="start" stroke="#0a0a0a" stroke-width="0.5">Au(111)</text>
<text transform="translate(775.8,139.6) scale(1.045,1)" font-size="18" font-weight="bold" fill="#e0202a" text-anchor="start" stroke="#e0202a" stroke-width="0.5">0.1 M HCOOH</text>
<text transform="translate(775.8,162.8) scale(1.045,1)" font-size="18" font-weight="bold" fill="#e0202a" text-anchor="start" stroke="#e0202a" stroke-width="0.5">+ 0.01 M HClO<tspan font-size="11" dy="5.5">4</tspan></text>
<text transform="translate(775.8,209.5) scale(1.045,1)" font-size="18" font-weight="bold" fill="#2018d0" text-anchor="start" stroke="#2018d0" stroke-width="0.5">0.1 M HCOOH</text>
<text transform="translate(775.8,233.1) scale(1.045,1)" font-size="18" font-weight="bold" fill="#2018d0" text-anchor="start" stroke="#2018d0" stroke-width="0.5">+ 0.1 M Py</text>
<text transform="translate(775.8,256.8) scale(1.045,1)" font-size="18" font-weight="bold" fill="#2018d0" text-anchor="start" stroke="#2018d0" stroke-width="0.5">+ 0.11 M HClO<tspan font-size="11" dy="5.5">4</tspan></text>
<text transform="translate(779.3,291.9) scale(1.045,1)" font-size="18" font-weight="bold" fill="#111" text-anchor="start" stroke="#111" stroke-width="0.5">pH 2</text>
<text transform="translate(777.5,319) scale(1.045,1)" font-size="18" font-weight="bold" fill="#111" text-anchor="start" stroke="#111" stroke-width="0.5">10 mV s<tspan font-size="10.5" dx="0.5" dy="-7.3">-1</tspan></text>
<text transform="translate(850.3,403.5) scale(1.045,1)" font-size="18" font-weight="bold" fill="#111" text-anchor="start" stroke="#111" stroke-width="0.5">0.1 M Py + 0.11 M HClO<tspan font-size="11" dy="5.5">4</tspan></text>
<line x1="103.3" y1="820.2" x2="549.3" y2="820.2" stroke="#6a6a6a" stroke-width="2.2"/>
<line x1="103.3" y1="552" x2="103.3" y2="910.4" stroke="#707070" stroke-width="2.9"/>
<line x1="102.1" y1="909.2" x2="550.5" y2="909.2" stroke="#6a6a6a" stroke-width="2.8"/>
<line x1="102.1" y1="553.2" x2="550.5" y2="553.2" stroke="#525252" stroke-width="2.5"/>
<line x1="549.3" y1="552" x2="549.3" y2="910.4" stroke="#484848" stroke-width="2.3"/>
<path d="M103.3,909.2v7M103.3,553.2v6.5M184.4,909.2v7M184.4,553.2v6.5M265.5,909.2v7M265.5,553.2v6.5M346.6,909.2v7M346.6,553.2v6.5M427.7,909.2v7M427.7,553.2v6.5M508.8,909.2v7M508.8,553.2v6.5M143.8,909.2v4M143.8,553.2v3.5M224.9,909.2v4M224.9,553.2v3.5M306,909.2v4M306,553.2v3.5M387.1,909.2v4M387.1,553.2v3.5M468.2,909.2v4M468.2,553.2v3.5M103.3,909.2h-7M103.3,820.2h-7M103.3,731.2h-7M103.3,642.2h-7M103.3,553.2h-7M103.3,864.7h-4M103.3,775.7h-4M103.3,686.7h-4M103.3,597.7h-4M549.3,909.2h7M549.3,820.2h7M549.3,731.2h7M549.3,642.2h7M549.3,553.2h7M549.3,864.7h4M549.3,775.7h4M549.3,686.7h4M549.3,597.7h4" stroke="#505050" stroke-width="2.2" fill="none"/>
<text x="103.3" y="935.7" font-size="19" font-weight="normal" fill="#2a2a2a" text-anchor="middle" stroke="#2a2a2a" stroke-width="0.45">-1.0</text>
<text x="184.4" y="935.7" font-size="19" font-weight="normal" fill="#2a2a2a" text-anchor="middle" stroke="#2a2a2a" stroke-width="0.45">-0.8</text>
<text x="265.5" y="935.7" font-size="19" font-weight="normal" fill="#2a2a2a" text-anchor="middle" stroke="#2a2a2a" stroke-width="0.45">-0.6</text>
<text x="346.6" y="935.7" font-size="19" font-weight="normal" fill="#2a2a2a" text-anchor="middle" stroke="#2a2a2a" stroke-width="0.45">-0.4</text>
<text x="427.7" y="935.7" font-size="19" font-weight="normal" fill="#2a2a2a" text-anchor="middle" stroke="#2a2a2a" stroke-width="0.45">-0.2</text>
<text x="508.8" y="935.7" font-size="19" font-weight="normal" fill="#2a2a2a" text-anchor="middle" stroke="#2a2a2a" stroke-width="0.45">0.0</text>
<text x="90.8" y="914.8" font-size="19" font-weight="normal" fill="#2a2a2a" text-anchor="end" stroke="#2a2a2a" stroke-width="0.45">-50</text>
<text x="90.8" y="825.8" font-size="19" font-weight="normal" fill="#2a2a2a" text-anchor="end" stroke="#2a2a2a" stroke-width="0.45">0</text>
<text x="90.8" y="736.8" font-size="19" font-weight="normal" fill="#2a2a2a" text-anchor="end" stroke="#2a2a2a" stroke-width="0.45">50</text>
<text x="90.8" y="647.8" font-size="19" font-weight="normal" fill="#2a2a2a" text-anchor="end" stroke="#2a2a2a" stroke-width="0.45">100</text>
<text x="90.8" y="558.8" font-size="19" font-weight="normal" fill="#2a2a2a" text-anchor="end" stroke="#2a2a2a" stroke-width="0.45">150</text>
<text x="560.8" y="914.8" font-size="19" font-weight="normal" fill="#2a2a2a" text-anchor="start" stroke="#2a2a2a" stroke-width="0.45">-20</text>
<text x="560.8" y="825.8" font-size="19" font-weight="normal" fill="#2a2a2a" text-anchor="start" stroke="#2a2a2a" stroke-width="0.45">0</text>
<text x="560.8" y="736.8" font-size="19" font-weight="normal" fill="#2a2a2a" text-anchor="start" stroke="#2a2a2a" stroke-width="0.45">20</text>
<text x="560.8" y="647.8" font-size="19" font-weight="normal" fill="#2a2a2a" text-anchor="start" stroke="#2a2a2a" stroke-width="0.45">40</text>
<text x="560.8" y="558.8" font-size="19" font-weight="normal" fill="#2a2a2a" text-anchor="start" stroke="#2a2a2a" stroke-width="0.45">60</text>
<text transform="translate(39.6,770.8) rotate(-90)" font-size="22" fill="#1a1a1a"><tspan font-style="italic">j</tspan> / &#956;A cm<tspan font-size="15" dy="-10">-2</tspan></text>
<text transform="translate(617.2,780.4) rotate(-90)" font-size="22" fill="#1a1a1a"><tspan font-style="italic">j</tspan> / &#956;A cm<tspan font-size="15" dy="-10">-2</tspan></text>
<text x="259" y="968.4" font-size="22" fill="#1a1a1a"><tspan font-style="italic">E</tspan> / V vs. MSE</text>
<path d="M104,821.5L105.5,821.5L107,821.5L108.5,821.5L110,821.5L111.5,821.5L113,821.5L114.5,821.5L116,821.5L117.6,821.5L119.1,821.5L120.6,821.5L122.1,821.5L123.6,821.5L125.1,821.5L126.6,821.5L128.1,821.5L129.6,821.5L131.1,821.5L132.6,821.5L134.1,821.5L135.6,821.4L137.1,821.4L138.6,821.4L140.1,821.4L141.6,821.4L143.1,821.4L144.7,821.4L146.2,821.4L147.7,821.4L149.2,821.4L150.7,821.4L152.2,821.4L153.7,821.4L155.2,821.4L156.7,821.4L158.2,821.4L159.7,821.4L161.2,821.4L162.7,821.4L164.2,821.4L165.7,821.4L167.2,821.4L168.7,821.4L170.2,821.4L171.8,821.4L173.3,821.4L174.8,821.4L176.3,821.4L177.8,821.4L179.3,821.4L180.8,821.4L182.3,821.4L183.8,821.4L185.3,821.4L186.8,821.4L188.3,821.4L189.8,821.4L191.3,821.4L192.8,821.4L194.3,821.4L195.8,821.4L197.3,821.4L198.9,821.4L200.4,821.4L201.9,821.4L203.4,821.4L204.9,821.4L206.4,821.4L207.9,821.4L209.4,821.4L210.9,821.3L212.4,821.3L213.9,821.3L215.4,821.3L216.9,821.3L218.4,821.3L219.9,821.3L221.4,821.3L222.9,821.4L224.4,821.4L225.9,821.5L227.4,821.6L228.9,821.8L230.4,822L231.9,822.3L233.4,822.6L234.9,822.8L236.3,823L237.8,823L239.3,823L240.8,822.8L242.3,822.5L243.8,822.2L245.3,822L246.7,821.8L248.2,821.6L249.7,821.5L251.2,821.3L252.7,821.2L254.2,821.1L255.7,821L257.2,820.8L258.7,820.7L260.2,820.5L261.7,820.2L263.2,820L264.7,819.7L266.2,819.5L267.7,819.4L269.2,819.5L270.7,819.6L272.1,819.8L273.6,820.1L275.1,820.3L276.6,820.5L278.1,820.6L279.6,820.7L281.1,820.8L282.6,820.8L284.1,820.9L285.6,820.9L287.1,820.9L288.6,820.9L290.1,820.9L291.6,820.9L293.1,820.9L294.6,820.9L296.1,820.9L297.7,820.9L299.2,820.8L300.7,820.8L302.2,820.7L303.7,820.7L305.2,820.6L306.7,820.6L308.2,820.5L309.7,820.5L311.2,820.4L312.7,820.4L314.2,820.3L315.7,820.2L317.2,820.2L318.7,820.1L320.2,820L321.7,819.9L323.2,819.9L324.7,819.8L326.2,819.7L327.7,819.6L329.2,819.5L330.7,819.4L332.2,819.3L333.7,819.2L335.2,819L336.7,818.9L338.2,818.8L339.7,818.7L341.2,818.5L342.7,818.4L344.2,818.2L345.7,818L347.2,817.9L348.7,817.7L350.2,817.5L351.7,817.2L353.2,817L354.7,816.8L356.2,816.5L357.6,816.3L359.1,816L360.6,815.7L362.1,815.5L363.6,815.2L365,814.9L366.5,814.5L368,814.2L369.4,813.9L370.9,813.5L372.4,813.2L373.8,812.8L375.3,812.4L376.7,812L378.2,811.5L379.6,811.1L381,810.6L382.5,810.2L383.9,809.6L385.3,809.1L386.7,808.5L388.1,808L389.4,807.3L390.8,806.7L392.1,806L393.4,805.3L394.7,804.5L396,803.7L397.2,802.8L398.5,801.9L399.6,801L400.8,800L401.9,799L403,798L404.1,797L405.2,795.9L406.2,794.8L407.1,793.6L408,792.4L408.9,791.2L409.7,789.9L410.4,788.6L411.1,787.3L411.8,785.9L412.4,784.6L413.1,783.2L413.7,781.8L414.3,780.5L414.8,779.1L415.3,777.6L415.9,776.2L416.4,774.8L417,773.5L417.8,772.2L418.6,770.9L419.5,769.7L420.5,768.6L421.6,769.6L422.8,770.6L423.9,771.5L425.1,772.5L426.3,773.3L427.6,774.1L428.9,774.9L430.2,775.6L431.5,776.3L432.8,777.1L434.1,777.8L435.5,778.5L436.8,779.2L438.1,779.9L439.5,780.5L440.9,781.2L442.2,781.8L443.6,782.4L445,782.9L446.4,783.5L447.8,784L449.2,784.6L450.6,785.1L452,785.6L453.4,786.1L454.9,786.5L456.3,787L457.7,787.4L459.2,787.8L460.6,788.2L462.1,788.5L463.6,788.8L465.1,789.1L466.5,789.4L468,789.6L469.5,789.7L471,789.8L472.5,789.6L473.9,789.3L475.3,788.7L476.5,788L477.7,787.1L478.7,786L479.7,784.9L480.7,783.7L481.7,782.6L482.7,781.6L483.9,780.6L485.1,779.7L486.3,779L487.7,778.5L489.1,778.2L490.6,778.2L492,778.5L493.3,779.2L494.4,780L495.5,781.1L496.3,782.3L497.1,783.5L497.9,784.8L498.6,786.2L499.2,787.5L499.9,788.8L500.5,790.2L501.2,791.6L501.8,792.9L502.5,794.3L503.2,795.6L503.9,796.9L504.6,798.3L505.3,799.6L505.9,801L506.5,802.3L507,803.8L507.4,805.2L507.7,806.6L507.8,808.1L507.7,809.6L507.4,811L507,812.4L506.3,813.8L505.5,815L504.5,816.1L503.4,817.1L502.2,817.9L500.9,818.6L499.5,819.1L498.1,819.6L496.6,819.9L495.1,820.1L493.6,820.3L492.1,820.5L490.6,820.7L489.2,820.8L487.7,821L486.2,821.2L484.7,821.4L483.2,821.5L481.7,821.7L480.2,821.8L478.7,822L477.2,822.2L475.7,822.4L474.2,822.6L472.8,822.9L471.3,823.1L469.8,823.4L468.3,823.7L466.9,824L465.4,824.4L464,824.8L462.6,825.4L461.2,825.9L459.9,826.6L458.5,827.3L457.3,828.1L456,828.9L454.7,829.7L453.5,830.6L452.2,831.4L451,832.2L449.7,833L448.5,833.9L447.2,834.7L446,835.5L444.7,836.3L443.3,836.9L441.9,837.3L440.5,837.5L439,837.5L437.6,837.2L436.2,836.7L434.9,836L433.6,835.2L432.5,834.3L431.3,833.3L430.3,832.2L429.3,831L428.5,829.8L427.6,828.6L426.9,827.3L426.1,826L425.4,824.7L424.7,823.3L424,822L423.4,820.7L422.7,819.3L422.1,818L421.4,816.6L420.7,815.3L420,814L419.2,812.7L418.3,811.5L417.4,810.3L416.4,809.2L415.3,808.2L414.1,807.3L412.9,806.5L411.5,805.9L410.1,805.4L408.7,804.9L407.2,804.5L405.8,804.2L404.3,803.8L402.9,803.5L401.4,803.3L399.9,803.2L398.4,803.2L397,803.5L395.5,803.9L394.1,804.3L392.7,804.9L391.3,805.5L389.9,806L388.5,806.6L387.1,807.2L385.8,807.8L384.4,808.3L383,808.9L381.6,809.4L380.2,809.9L378.7,810.4L377.3,810.8L375.8,811.2L374.4,811.6L372.9,812L371.5,812.4L370,812.8L368.6,813.1L367.1,813.5L365.6,813.8L364.2,814.1L362.7,814.4L361.2,814.7L359.8,815L358.3,815.3L356.8,815.6L355.3,815.9L353.9,816.1L352.4,816.4L350.9,816.6L349.4,816.8L347.9,817L346.4,817.2L344.9,817.4L343.5,817.6L342,817.8L340.5,817.9L339,818.1L337.5,818.3L336,818.4L334.5,818.6L333,818.7L331.5,818.9L330,819L328.5,819.1L327,819.3L325.5,819.4L324,819.5L322.5,819.6L321,819.8L319.5,819.9L318,820L316.5,820.1L315,820.2L313.5,820.3L312,820.4L310.5,820.5L309,820.5L307.5,820.6L306,820.7L304.5,820.8L303,820.9L301.5,820.9L300,821L298.5,821.1L297,821.1L295.5,821.2L294,821.2L292.5,821.3L291,821.3L289.5,821.4L288,821.4L286.5,821.5L285,821.5L283.5,821.6L282,821.6L280.5,821.6L279,821.7L277.5,821.7L276,821.7L274.5,821.8L273,821.8L271.5,821.8L270,821.8L268.5,821.9L267,821.9L265.5,821.9L264,821.9L262.5,822L261,822L259.5,822L258,822L256.5,822L255,822.1L253.5,822.1L252,822.1L250.5,822.1L249,822.1L247.5,822.1L246,822.2L244.5,822.2L243,822.2L241.5,822.2L240,822.2L238.5,822.2L236.9,822.2L235.4,822.3L233.9,822.3L232.4,822.3L230.9,822.3L229.4,822.3L227.9,822.3L226.4,822.3L224.9,822.3L223.4,822.3L221.9,822.4L220.4,822.4L218.9,822.4L217.4,822.4L215.9,822.4L214.4,822.4L212.9,822.4L211.4,822.4L209.9,822.4L208.4,822.4L206.9,822.5L205.4,822.5L203.9,822.5L202.4,822.5L200.9,822.5L199.4,822.5L197.9,822.5L196.4,822.5L194.9,822.5L193.4,822.5L191.9,822.6L190.4,822.6L188.9,822.6L187.4,822.6L185.9,822.6L184.4,822.6L182.9,822.6L181.4,822.6L179.9,822.6L178.4,822.6L176.9,822.6L175.4,822.6L173.9,822.6L172.4,822.6L170.9,822.6L169.3,822.6L167.8,822.6L166.3,822.6L164.8,822.6L163.3,822.6L161.8,822.6L160.3,822.6L158.8,822.6L157.3,822.6L155.8,822.6L154.3,822.6L152.8,822.6L151.3,822.6L149.8,822.6L148.3,822.6L146.8,822.6L145.3,822.6L143.8,822.6L142.3,822.6L140.8,822.6L139.3,822.6L137.8,822.6L136.3,822.6L134.8,822.6L133.3,822.5L131.8,822.5L130.3,822.5L128.8,822.5L127.3,822.5L125.8,822.5L124.3,822.5L122.8,822.5L121.3,822.5L119.8,822.5L118.3,822.5L116.8,822.5L115.3,822.5L113.8,822.5L112.3,822.5L110.8,822.5L109.3,822.5L107.8,822.5L106.3,822.5L104.8,822.5L104,822.5" fill="none" stroke="#e81c24" stroke-width="2.7" stroke-linejoin="round" stroke-linecap="round"/>
<path d="M104,822L105.5,822L107,822L108.5,822L110,822L111.5,822L113,822L114.5,822L116,822L117.5,821.9L119,821.9L120.5,821.9L122,821.9L123.5,821.9L125,821.9L126.5,821.9L128,821.9L129.5,821.9L131,821.9L132.5,821.9L134,821.9L135.5,821.9L137,821.9L138.5,821.9L140.1,821.8L141.6,821.8L143.1,821.8L144.6,821.8L146.1,821.8L147.6,821.8L149.1,821.8L150.6,821.8L152.1,821.8L153.6,821.8L155.1,821.8L156.6,821.8L158.1,821.8L159.6,821.8L161.1,821.8L162.6,821.7L164.1,821.7L165.6,821.7L167.1,821.7L168.6,821.7L170.1,821.7L171.6,821.7L173.1,821.7L174.6,821.7L176.1,821.7L177.6,821.7L179.1,821.7L180.6,821.7L182.1,821.7L183.6,821.7L185.1,821.7L186.6,821.7L188.1,821.7L189.6,821.7L191.1,821.7L192.6,821.7L194.1,821.7L195.6,821.7L197.1,821.7L198.6,821.7L200.1,821.7L201.6,821.7L203.1,821.7L204.6,821.7L206.1,821.6L207.6,821.6L209.1,821.6L210.6,821.5L212.1,821.5L213.6,821.4L215.2,821.4L216.7,821.4L218.2,821.4L219.7,821.5L221.2,821.6L222.6,821.7L224.1,821.9L225.6,822.3L227,822.7L228.4,823.2L229.8,823.9L231.1,824.6L232.4,825.3L233.6,826.2L234.8,827.1L236,827.9L237.3,828.6L238.6,828.9L239.9,828.7L241.2,828.1L242.4,827.3L243.6,826.5L244.9,825.7L246.2,825L247.6,824.4L249,823.8L250.3,823.2L251.7,822.6L253,821.9L254.3,821.2L255.7,820.5L256.9,819.7L258.2,818.9L259.5,818.1L260.8,817.3L262,816.4L263.2,815.5L264.3,814.5L265.4,813.5L266.5,812.5L267.7,811.7L269,811L270.3,810.7L271.7,810.9L273,811.4L274.2,812.2L275.4,813.1L276.6,814.1L277.7,815L278.8,816L280,817L281.2,817.8L282.5,818.5L283.9,818.9L285.4,819.2L286.9,819.3L288.4,819.4L289.9,819.5L291.4,819.5L292.9,819.5L294.4,819.5L295.9,819.5L297.4,819.5L298.9,819.4L300.4,819.4L301.9,819.3L303.4,819.2L304.9,819.2L306.4,819.1L307.9,819L309.4,818.9L310.9,818.9L312.4,818.8L313.9,818.7L315.4,818.6L316.9,818.5L318.4,818.4L319.9,818.4L321.4,818.3L322.9,818.2L324.4,818.1L325.9,818L327.4,818L328.9,817.9L330.4,817.8L331.9,817.7L333.4,817.6L334.9,817.5L336.4,817.5L337.9,817.4L339.4,817.2L340.9,817.1L342.4,817L343.9,816.9L345.4,816.8L346.9,816.6L348.4,816.5L349.9,816.3L351.3,816.2L352.8,816L354.3,815.8L355.8,815.6L357.3,815.4L358.8,815.2L360.3,815L361.8,814.7L363.2,814.5L364.7,814.2L366.2,813.9L367.7,813.6L369.1,813.3L370.6,812.9L372,812.4L373.4,811.9L374.8,811.3L376.1,810.7L377.5,810L378.8,809.2L380,808.4L381.3,807.6L382.6,806.8L383.8,805.9L385,805L386.2,804.1L387.4,803.2L388.5,802.2L389.7,801.2L390.8,800.2L391.9,799.2L392.9,798.2L394,797.1L395.1,796L396.1,795L397.1,793.9L398.1,792.7L399.1,791.6L400.1,790.5L401,789.3L402,788.1L402.9,787L403.8,785.8L404.7,784.5L405.6,783.3L406.4,782.1L407.3,780.8L408.1,779.6L408.9,778.3L409.7,777.1L410.5,775.8L411.2,774.4L411.8,773.1L412.4,771.7L412.9,770.3L413.4,768.9L413.9,767.4L414.3,766L414.7,764.6L415.1,763.1L415.5,761.7L415.9,760.2L416.3,758.8L416.7,757.3L417.1,755.9L417.5,754.4L417.9,753L418.2,751.5L418.6,750.1L419,748.6L419.3,747.1L419.7,745.7L420,744.2L420.3,742.7L420.6,741.3L420.9,739.8L421.2,738.3L421.5,736.9L421.8,735.4L422.1,733.9L422.3,732.4L422.6,730.9L422.8,729.5L423,728L423.3,726.5L423.5,725L423.7,723.5L423.9,722L424.1,720.5L424.3,719L424.5,717.6L424.7,716.1L424.8,714.6L425,713.1L425.2,711.6L425.3,710.1L425.5,708.6L425.6,707.1L425.7,705.6L425.9,704.1L426,702.6L426.1,701.1L426.2,699.6L426.3,698.1L426.4,696.6L426.5,695.1L426.6,693.6L426.7,692.1L426.7,690.6L426.8,689.1L426.9,687.6L426.9,686.1L427,684.6L427.1,683.1L427.1,681.6L427.2,680.1L427.2,678.6L427.3,677.1L427.3,675.6L427.3,674.1L427.4,672.6L427.4,671.1L427.5,669.6L427.5,668.1L427.5,666.6L427.6,665.1L427.6,663.6L427.6,662.1L427.7,660.6L427.7,659.1L427.8,657.6L427.8,656.1L427.9,654.6L427.9,653.1L428,651.6L428,650.1L428.1,648.6L428.1,647.1L428.2,645.6L428.3,644.1L428.3,642.6L428.4,641.1L428.4,639.6L428.5,638.1L428.5,636.6L428.6,635.1L428.6,633.6L428.7,632.1L428.7,630.6L428.8,629.1L428.8,627.6L428.9,626.1L429,624.6L429,623.1L429.1,621.6L429.1,620.1L429.1,618.6L429.2,617.1L429.2,615.6L429.3,614.1L429.3,612.6L429.3,611.1L429.4,609.6L429.4,608.1L429.5,606.5L429.5,605L429.5,603.5L429.6,602L429.6,600.5L429.6,599L429.6,597.5L429.7,596L429.7,594.5L429.7,593L429.7,591.5L429.8,590L429.8,588.5L429.8,587L429.8,585.5L429.9,584L429.9,582.5L429.9,581L429.9,579.5L429.9,578L430,576.5L430,575L430,573.5L430,572L430.1,570.5L430.1,569L430.1,567.5L430.3,569L430.5,570.5L430.8,572L431.1,573.4L431.7,574.8L432.4,576.1L433.3,577.3L434.2,578.4L435.2,579.6L436.1,580.8L436.9,582L437.7,583.3L438.4,584.7L439.1,586L439.7,587.4L440.3,588.8L440.8,590.2L441.3,591.6L441.7,593L442.2,594.5L442.6,595.9L443,597.4L443.4,598.8L443.8,600.3L444.2,601.7L444.5,603.2L444.9,604.7L445.3,606.1L445.6,607.6L446,609L446.3,610.5L446.7,612L447,613.4L447.4,614.9L447.7,616.4L448,617.8L448.3,619.3L448.7,620.8L449,622.3L449.3,623.7L449.6,625.2L449.9,626.7L450.2,628.2L450.5,629.6L450.8,631.1L451.1,632.6L451.4,634.1L451.7,635.5L451.9,637L452.2,638.5L452.5,640L452.8,641.5L453,643L453.3,644.4L453.6,645.9L453.9,647.4L454.1,648.9L454.4,650.4L454.6,651.8L454.9,653.3L455.1,654.8L455.4,656.3L455.6,657.8L455.9,659.3L456.1,660.8L456.4,662.2L456.6,663.7L456.8,665.2L457,666.7L457.3,668.2L457.5,669.7L457.7,671.2L457.9,672.7L458.2,674.2L458.4,675.7L458.6,677.1L458.8,678.6L459,680.1L459.2,681.6L459.5,683.1L459.7,684.6L459.9,686.1L460.1,687.6L460.4,689.1L460.6,690.6L460.8,692L461.1,693.5L461.3,695L461.5,696.5L461.8,698L462,699.5L462.2,701L462.5,702.5L462.7,703.9L463,705.4L463.2,706.9L463.4,708.4L463.7,709.9L463.9,711.4L464.1,712.9L464.3,714.4L464.6,715.8L464.8,717.3L465,718.8L465.2,720.3L465.4,721.8L465.6,723.3L465.8,724.8L466,726.3L466.2,727.8L466.4,729.3L466.6,730.8L466.8,732.3L467.1,733.7L467.3,735.2L467.5,736.7L467.8,738.2L468.1,739.7L468.3,741.2L468.6,742.7L468.9,744.1L469.2,745.6L469.5,747.1L469.8,748.6L470.1,750L470.4,751.5L470.7,753L471.1,754.4L471.4,755.9L471.8,757.4L472.2,758.8L472.6,760.3L473.1,761.7L473.6,763.1L474.1,764.5L474.6,765.9L475.1,767.4L475.6,768.8L476.1,770.2L476.5,771.7L477,773.1L477.5,774.5L478.1,775.9L478.8,777.2L479.5,778.5L480.3,779.8L481.2,781L482,782.3L482.9,783.5L483.8,784.7L484.7,785.9L485.6,787.1L486.4,788.4L487,789.7L487.5,791.1L487.8,792.6L487.9,794L487.7,795.5L487.5,797L487.1,798.4L486.6,799.9L486.4,800.6L485.1,800.1L483.9,799.4L482.8,798.4L481.7,797.3L480.7,796.2L479.7,795.1L478.8,793.9L477.9,792.7L477.1,791.4L476.3,790.1L475.6,788.8L474.9,787.4L474.2,786.1L473.6,784.7L473,783.3L472.5,781.9L471.9,780.5L471.4,779.1L470.9,777.7L470.3,776.2L469.8,774.8L469.3,773.4L468.8,772L468.3,770.5L467.8,769.1L467.3,767.7L466.8,766.3L466.3,764.8L465.8,763.4L465.4,761.9L465,760.5L464.5,759L464.1,757.6L463.7,756.1L463.3,754.7L463,753.2L462.6,751.7L462.2,750.3L461.8,748.8L461.5,747.3L461.1,745.9L460.7,744.4L460.4,742.9L460,741.5L459.7,740L459.4,738.5L459,737L458.7,735.6L458.4,734.1L458.1,732.6L457.8,731.1L457.5,729.6L457.2,728.2L456.9,726.7L456.6,725.2L456.3,723.7L456,722.2L455.7,720.7L455.4,719.3L455.1,717.8L454.8,716.3L454.5,714.8L454.1,713.3L453.8,711.9L453.5,710.4L453.1,708.9L452.8,707.4L452.4,706L452.1,704.5L451.7,703L451.3,701.6L451,700.1L450.6,698.6L450.2,697.2L449.8,695.7L449.4,694.2L449,692.8L448.7,691.3L448.3,689.9L447.9,688.4L447.5,686.9L447,685.5L446.6,684L446.2,682.6L445.8,681.1L445.4,679.7L444.9,678.2L444.5,676.8L444.1,675.3L443.7,673.9L443.3,672.4L442.9,670.9L442.5,669.5L442.1,668L441.7,666.6L441.3,665.1L440.8,663.7L440.4,662.2L439.9,660.8L439.5,659.3L439,657.9L438.5,656.5L437.9,655.1L437.4,653.7L436.8,652.3L436.2,650.9L435.5,649.5L434.8,648.2L434.1,646.9L433.3,645.6L432.4,644.4L431.5,643.2L430.5,642.1L429.4,641L429.4,642.5L429.3,644L429.3,645.5L429.2,647L429.2,648.5L429.2,650L429.1,651.5L429.1,653L429,654.5L429,656L429,657.5L428.9,659L428.9,660.5L428.8,662L428.8,663.6L428.8,665.1L428.7,666.6L428.7,668.1L428.6,669.6L428.6,671.1L428.5,672.6L428.5,674.1L428.4,675.6L428.4,677.1L428.3,678.6L428.3,680.1L428.2,681.6L428.2,683.1L428.2,684.6L428.1,686.1L428.1,687.6L428,689.1L427.9,690.6L427.9,692.1L427.8,693.6L427.7,695.1L427.7,696.6L427.6,698.1L427.5,699.6L427.4,701.1L427.3,702.6L427.2,704.1L427.2,705.6L427.1,707.1L427,708.6L426.8,710.1L426.7,711.6L426.6,713.1L426.5,714.6L426.4,716.1L426.2,717.6L426.1,719.1L426,720.6L425.8,722.1L425.6,723.6L425.5,725.1L425.3,726.6L425.1,728.1L424.9,729.6L424.7,731.1L424.5,732.6L424.3,734L424,735.5L423.8,737L423.6,738.5L423.3,740L423.1,741.5L422.8,743L422.6,744.4L422.4,745.9L422.1,747.4L421.9,748.9L421.7,750.4L421.5,751.9L421.2,753.4L421,754.8L420.8,756.3L420.6,757.8L420.3,759.3L420.1,760.8L419.8,762.3L419.5,763.7L419.2,765.2L418.8,766.7L418.4,768.1L418,769.6L417.6,771L417.1,772.4L416.6,773.8L416,775.2L415.5,776.6L414.9,778L414.2,779.4L413.6,780.7L412.9,782.1L412.1,783.4L411.4,784.6L410.5,785.9L409.7,787.1L408.8,788.4L407.9,789.6L407,790.7L406,791.9L405.1,793.1L404.1,794.2L403.1,795.3L402.1,796.4L401,797.5L400,798.6L398.9,799.7L397.8,800.7L396.7,801.7L395.6,802.7L394.4,803.7L393.3,804.6L392.1,805.5L390.8,806.4L389.6,807.2L388.3,808L387,808.8L385.7,809.5L384.3,810.1L383,810.8L381.6,811.3L380.2,811.9L378.8,812.4L377.4,812.9L375.9,813.4L374.5,813.8L373,814.2L371.6,814.6L370.1,814.9L368.7,815.3L367.2,815.6L365.7,815.9L364.2,816.1L362.7,816.4L361.3,816.6L359.8,816.8L358.3,817L356.8,817.2L355.3,817.4L353.8,817.6L352.3,817.7L350.8,817.9L349.3,818.1L347.8,818.2L346.3,818.4L344.8,818.5L343.3,818.6L341.8,818.8L340.3,818.9L338.8,819L337.3,819.1L335.8,819.2L334.3,819.3L332.8,819.4L331.3,819.5L329.8,819.5L328.3,819.6L326.8,819.7L325.3,819.7L323.8,819.8L322.3,819.9L320.8,820L319.3,820L317.8,820.1L316.3,820.2L314.8,820.2L313.3,820.3L311.8,820.3L310.3,820.3L308.8,820.4L307.3,820.4L305.8,820.5L304.3,820.5L302.8,820.6L301.3,820.6L299.8,820.7L298.3,820.7L296.8,820.8L295.3,820.8L293.8,820.9L292.3,821L290.8,821.2L289.3,821.3L287.8,821.5L286.3,821.7L284.8,822L283.3,822.3L281.8,822.5L280.4,822.8L278.9,823.1L277.4,823.3L275.9,823.4L274.4,823.5L272.9,823.5L271.4,823.5L269.9,823.5L268.4,823.4L266.9,823.3L265.4,823.3L263.9,823.2L262.4,823.2L260.9,823.2L259.4,823.1L257.9,823L256.4,823L254.9,823L253.4,823L251.9,823.2L250.5,823.6L249.1,824.1L247.8,824.8L246.5,825.6L245.3,826.5L244.2,827.5L243,828.4L241.7,829.2L240.4,829.8L239.1,830L237.7,829.8L236.4,829.3L235.1,828.6L233.8,827.8L232.6,827L231.3,826.2L229.9,825.6L228.5,825L227.1,824.4L225.7,824L224.3,823.6L222.8,823.4L221.3,823.2L219.8,823.1L218.3,823L216.8,823L215.3,823L213.8,823.1L212.3,823.1L210.8,823.2L209.3,823.2L207.8,823.3L206.3,823.3L204.8,823.3L203.3,823.4L201.8,823.4L200.3,823.4L198.7,823.4L197.2,823.4L195.7,823.4L194.2,823.4L192.7,823.4L191.2,823.4L189.7,823.4L188.2,823.4L186.7,823.4L185.2,823.4L183.7,823.4L182.2,823.4L180.7,823.4L179.2,823.4L177.7,823.4L176.2,823.4L174.7,823.4L173.2,823.4L171.7,823.4L170.2,823.4L168.7,823.4L167.2,823.4L165.7,823.4L164.2,823.4L162.7,823.5L161.1,823.5L159.6,823.5L158.1,823.5L156.6,823.5L155.1,823.5L153.6,823.5L152.1,823.5L150.6,823.5L149.1,823.5L147.6,823.5L146.1,823.5L144.6,823.5L143.1,823.5L141.6,823.5L140.1,823.5L138.6,823.5L137.1,823.5L135.6,823.5L134.1,823.5L132.6,823.5L131.1,823.5L129.6,823.5L128.1,823.5L126.6,823.5L125.1,823.5L123.6,823.6L122,823.6L120.5,823.6L119,823.6L117.5,823.6L116,823.6L114.5,823.6L113,823.6L111.5,823.6L110,823.6L108.5,823.6L107,823.6L105.5,823.6L104,823.6" fill="none" stroke="#1414d8" stroke-width="2.8" stroke-linejoin="round" stroke-linecap="round"/>
<path d="M104,819.7L105.5,819.7L107,819.7L108.5,819.7L110,819.7L111.5,819.7L113,819.7L114.5,819.7L116,819.7L117.5,819.7L119,819.7L120.5,819.7L122,819.7L123.5,819.7L125,819.7L126.5,819.7L128,819.7L129.6,819.7L131.1,819.7L132.6,819.7L134.1,819.7L135.6,819.7L137.1,819.7L138.6,819.7L140.1,819.7L141.6,819.7L143.1,819.7L144.6,819.7L146.1,819.7L147.6,819.7L149.1,819.7L150.6,819.7L152.1,819.7L153.6,819.7L155.1,819.7L156.6,819.7L158.1,819.7L159.6,819.7L161.1,819.7L162.6,819.7L164.1,819.7L165.6,819.7L167.1,819.8L168.6,819.8L170.1,819.8L171.6,819.8L173.1,819.8L174.6,819.8L176.1,819.8L177.6,819.7L179.1,819.7L180.7,819.7L182.2,819.7L183.7,819.7L185.2,819.7L186.7,819.7L188.2,819.7L189.7,819.7L191.2,819.7L192.7,819.7L194.2,819.7L195.7,819.7L197.2,819.7L198.7,819.7L200.2,819.7L201.7,819.7L203.2,819.7L204.7,819.7L206.2,819.7L207.7,819.6L209.2,819.6L210.7,819.6L212.2,819.6L213.7,819.6L215.2,819.6L216.7,819.5L218.2,819.5L219.7,819.5L221.2,819.5L222.7,819.5L224.2,819.4L225.7,819.4L227.2,819.4L228.7,819.4L230.2,819.4L231.8,819.4L233.3,819.4L234.8,819.4L236.3,819.4L237.8,819.5L239.3,819.5L240.8,819.5L242.3,819.5L243.8,819.5L245.3,819.6L246.8,819.6L248.3,819.5L249.8,819.5L251.3,819.5L252.8,819.5L254.3,819.3L255.7,819L257,818.3L258.2,817.4L259.3,816.3L260.2,815.1L260.9,813.9L261.6,812.5L262.2,811.1L262.7,809.7L263.2,808.3L263.7,806.9L264,805.4L264.4,804L264.8,802.5L265.1,801L265.3,799.6L265.6,798.1L266,796.6L266.6,795.3L267.5,794.4L268.6,794.2L269.6,795.1L270.4,796.2L271.2,797L272,796.6L272.8,795.5L273.8,794.4L274.8,793.9L275.6,794.4L276.3,795.6L276.7,797.1L277.1,798.5L277.3,800L277.6,801.5L277.8,803L278.1,804.5L278.3,805.9L278.6,807.4L279,808.9L279.4,810.3L280,811.7L280.6,813L281.4,814.3L282.3,815.5L283.3,816.6L284.5,817.6L285.8,818.3L287.1,818.9L288.6,819.3L290,819.5L291.5,819.6L293,819.6L294.5,819.5L296,819.5L297.6,819.4L299.1,819.4L300.6,819.4L302.1,819.4L303.6,819.4L305.1,819.4L306.6,819.4L308.1,819.4L309.6,819.5L311.1,819.5L312.6,819.5L314.1,819.5L315.6,819.5L317.1,819.5L318.6,819.5L320.1,819.5L321.6,819.5L323.1,819.5L324.6,819.5L326.1,819.5L327.6,819.5L329.1,819.5L330.6,819.5L332.1,819.5L333.6,819.6L335.1,819.6L336.6,819.6L338.1,819.6L339.6,819.6L341.1,819.6L342.6,819.6L344.1,819.6L345.6,819.6L347.1,819.6L348.7,819.6L350.2,819.6L351.7,819.6L353.2,819.6L354.7,819.6L356.2,819.6L357.7,819.6L359.2,819.6L360.7,819.6L362.2,819.6L363.7,819.6L365.2,819.6L366.7,819.6L368.2,819.6L369.7,819.7L371.2,819.7L372.7,819.7L374.2,819.7L375.7,819.7L377.2,819.7L378.7,819.7L380.2,819.7L381.7,819.7L383.2,819.7L384.7,819.7L386.2,819.7L387.7,819.7L389.2,819.7L390.7,819.7L392.2,819.7L393.7,819.7L395.2,819.6L396.7,819.6L398.2,819.6L399.8,819.6L401.3,819.6L402.8,819.6L404.3,819.5L405.8,819.5L407.3,819.5L408.8,819.4L410.3,819.3L411.8,819.1L413.2,818.8L414.7,818.5L416.2,818.2L417.6,817.8L419,817.1L420.2,816.3L421.3,815.4L422.4,814.3L423.3,813.1L424.2,811.9L424.9,810.6L425.5,809.2L426,807.8L426.5,806.4L427,804.9L427.4,803.5L427.8,802.1L428.1,800.6L428.5,799.1L428.9,797.7L429.2,796.2L429.5,794.7L429.8,793.3L430.1,791.8L430.4,790.3L430.6,788.8L430.9,787.4L431.1,785.9L431.3,784.4L431.5,782.9L431.7,781.4L431.9,779.9L432,778.4L432.1,776.9L432.3,775.4L432.4,773.9L432.4,772.4L432.5,770.9L432.6,769.4L432.6,767.9L432.7,766.4L432.7,764.9L432.7,763.4L432.8,761.9L432.8,760.4L432.8,758.9L432.8,757.4L432.9,755.9L432.9,754.4L432.9,752.9L432.9,751.4L433,749.9L433,748.4L433,746.9L433,745.4L433,743.9L433.1,742.4L433.1,740.9L433.1,739.4L433.2,737.9L433.2,736.4L433.2,735.6L433.2,737.1L433.2,738.7L433.3,740.2L433.3,741.7L433.3,743.3L433.3,744.8L433.4,746.3L433.4,747.9L433.4,749.4L433.4,750.9L433.5,752.5L433.5,754L433.5,755.5L433.5,757.1L433.6,758.6L433.6,760.1L433.6,761.7L433.6,763.2L433.7,764.7L433.7,766.3L433.7,767.8L433.7,769.3L433.8,770.9L433.8,772.4L433.8,773.9L433.9,775.4L433.9,777L433.9,778.5L433.9,780L434,781.6L434,783.1L434,784.6L434.1,786.2L434.1,787.7L434.2,789.2L434.2,790.8L434.2,792.3L434.3,793.8L434.3,795.4L434.3,796.9L434.4,798.4L434.4,799.2L436,799.6L437.5,799.7L439.1,799.6L440.6,799.7L441.9,800.5L442.5,801L442.5,834.8L441,835.6L439.5,836.1L437.9,836.4L436.3,836.5L434.6,836.6L433,836.6L432.7,838.1L432.4,839.6L432.1,841.1L431.9,842.6L431.6,844.1L431.5,845.7L431.3,847.2L431.2,848.7L431.1,850.2L431,851.8L431,853.3L430.9,854.8L430.9,856.4L430.8,857.9L430.8,859.4L430.8,861L430.7,862.5L430.7,864L430.7,865.6L430.7,867.1L430.7,868.6L430.6,870.1L430.6,871.7L430.6,873.2L430.6,874.7L430.6,876.3L430.6,877.8L430.5,879.3L430.5,880.9L430.5,882.4L430.5,883.9L430.4,885.5L430.4,887L430.4,885.5L430.3,884L430.3,882.5L430.2,881L430.2,879.5L430.2,878L430.1,876.5L430.1,875L430.1,873.5L430,872L430,870.5L429.9,868.9L429.9,867.4L429.9,865.9L429.8,864.4L429.8,862.9L429.7,861.4L429.7,859.9L429.6,858.4L429.6,856.9L429.5,855.4L429.4,853.9L429.4,852.4L429.3,850.9L429.1,849.4L429,847.9L428.9,846.4L428.7,844.9L428.5,843.4L428.3,841.9L428,840.5L427.6,839L427.2,837.6L426.7,836.2L426.1,834.8L425.5,833.4L424.9,832L424.3,830.7L423.6,829.3L422.8,828L422,826.8L421.1,825.6L420.1,824.4L419,823.5L417.7,822.8L416.2,822.3L414.8,822.1L413.3,822L411.8,822L410.3,822L408.8,822.1L407.3,822.1L405.8,822.2L404.2,822.2L402.7,822.2L401.2,822.2L399.7,822.2L398.2,822.2L396.7,822.2L395.2,822.3L393.7,822.3L392.2,822.3L390.7,822.3L389.2,822.3L387.7,822.3L386.2,822.3L384.7,822.3L383.2,822.3L381.7,822.3L380.2,822.3L378.7,822.2L377.2,822.2L375.7,822.2L374.2,822.2L372.6,822.2L371.1,822.2L369.6,822.2L368.1,822.2L366.6,822.2L365.1,822.2L363.6,822.2L362.1,822.2L360.6,822.2L359.1,822.2L357.6,822.2L356.1,822.2L354.6,822.2L353.1,822.2L351.6,822.2L350.1,822.2L348.6,822.2L347.1,822.2L345.6,822.2L344.1,822.2L342.6,822.2L341,822.2L339.5,822.2L338,822.2L336.5,822.2L335,822.2L333.5,822.2L332,822.2L330.5,822.2L329,822.2L327.5,822.2L326,822.2L324.5,822.2L323,822.1L321.5,822.1L320,822.1L318.5,822.1L317,822.1L315.5,822.1L314,822.1L312.5,822.1L311,822.1L309.5,822.1L307.9,822.1L306.4,822.1L304.9,822.1L303.4,822.1L301.9,822.1L300.4,822.1L298.9,822.1L297.4,822.1L295.9,822.1L294.4,822.1L292.9,822.1L291.4,822.1L289.9,822.1L288.4,822.1L286.9,822.1L285.4,822.1L283.9,822.1L282.4,822.1L280.9,822.1L279.4,822.1L277.9,822.1L276.3,822.1L274.8,822.2L273.3,822.2L271.8,822.2L270.3,822.2L268.8,822.2L267.3,822.2L265.8,822.3L264.3,822.3L262.8,822.4L261.3,822.6L259.8,822.8L258.4,823.1L256.9,823.5L255.5,824L254.1,824.6L252.8,825.4L251.6,826.3L250.5,827.3L249.6,828.4L248.7,829.7L248,831L247.4,832.4L246.9,833.8L246.4,835.2L246,836.6L245.7,838.1L245.3,839.6L245,841.1L244.8,842.5L244.6,844L244.4,845.5L244.2,847L244,848.5L243.9,847L243.7,845.5L243.5,844L242.9,842.7L241.9,841.7L240.6,841L239.3,840.2L238.3,839.3L237.5,838L237,836.6L236.5,835.2L236,833.8L235.5,832.3L234.8,831L234.1,829.7L233.1,828.5L232.1,827.4L230.9,826.5L229.7,825.6L228.4,824.8L227,824.2L225.6,823.7L224.2,823.3L222.7,823L221.2,822.8L219.7,822.7L218.1,822.6L216.6,822.6L215.1,822.5L213.6,822.4L212.1,822.4L210.6,822.3L209.1,822.3L207.6,822.3L206.1,822.3L204.5,822.2L203,822.2L201.5,822.2L200,822.2L198.5,822.2L197,822.2L195.5,822.2L194,822.2L192.5,822.2L190.9,822.1L189.4,822.1L187.9,822.1L186.4,822.1L184.9,822.1L183.4,822.1L181.9,822.1L180.4,822.1L178.8,822.1L177.3,822.1L175.8,822.1L174.3,822.1L172.8,822.1L171.3,822.1L169.8,822.1L168.3,822.1L166.7,822.1L165.2,822.1L163.7,822.1L162.2,822.1L160.7,822.1L159.2,822.1L157.7,822.1L156.2,822.1L154.7,822.1L153.1,822.1L151.6,822.1L150.1,822.1L148.6,822.1L147.1,822.1L145.6,822.1L144.1,822.2L142.6,822.2L141,822.2L139.5,822.2L138,822.2L136.5,822.2L135,822.2L133.5,822.2L132,822.2L130.5,822.2L128.9,822.2L127.4,822.2L125.9,822.2L124.4,822.2L122.9,822.2L121.4,822.2L119.9,822.2L118.4,822.2L116.9,822.2L115.3,822.2L113.8,822.2L112.3,822.2L110.8,822.2L109.3,822.2L107.8,822.2L106.3,822.2L104.8,822.2L104,822.2L104,819.7" fill="none" stroke="#000" stroke-width="2.8" stroke-linejoin="round" stroke-linecap="round"/>
<line x1="443.5" y1="864.3" x2="523" y2="864.3" stroke="#000" stroke-width="3.4"/>
<polygon points="520,859.5 535,864.3 520,869.1" fill="#000"/>
<text transform="translate(185,601.3) scale(1.05,1)" font-size="30" font-weight="bold" fill="#0a0a0a" text-anchor="start" stroke="#0a0a0a" stroke-width="0.5">Au(111)</text>
<text transform="translate(184.4,642.3) scale(1.045,1)" font-size="18" font-weight="bold" fill="#e0202a" text-anchor="start" stroke="#e0202a" stroke-width="0.5">0.1 M HCOOH</text>
<text transform="translate(184.4,666.3) scale(1.045,1)" font-size="18" font-weight="bold" fill="#e0202a" text-anchor="start" stroke="#e0202a" stroke-width="0.5">+ 0.11 M NaOH</text>
<text transform="translate(184.4,695.4) scale(1.045,1)" font-size="18" font-weight="bold" fill="#2018d0" text-anchor="start" stroke="#2018d0" stroke-width="0.5">0.1 M HCOOH</text>
<text transform="translate(184.4,718) scale(1.045,1)" font-size="18" font-weight="bold" fill="#2018d0" text-anchor="start" stroke="#2018d0" stroke-width="0.5">+ 0.1 M Py</text>
<text transform="translate(184.4,741.6) scale(1.045,1)" font-size="18" font-weight="bold" fill="#2018d0" text-anchor="start" stroke="#2018d0" stroke-width="0.5">+ HClO<tspan font-size="11" dy="5.5">4</tspan><tspan dy="-5.5"> / NaOH</tspan></text>
<text transform="translate(116.5,780.4) scale(1.045,1)" font-size="18" font-weight="bold" fill="#111" text-anchor="start" stroke="#111" stroke-width="0.5">pH 12.6</text>
<text transform="translate(116.5,805.6) scale(1.045,1)" font-size="18" font-weight="bold" fill="#111" text-anchor="start" stroke="#111" stroke-width="0.5">10 mV s<tspan font-size="10.5" dx="0.5" dy="-7.3">-1</tspan></text>
<text transform="translate(263.3,866.7) scale(1.045,1)" font-size="18" font-weight="bold" fill="#111" text-anchor="start" stroke="#111" stroke-width="0.5">0.1 M Py</text>
<text transform="translate(263.3,889.5) scale(1.045,1)" font-size="18" font-weight="bold" fill="#111" text-anchor="start" stroke="#111" stroke-width="0.5">+ HClO<tspan font-size="11" dy="5.5">4</tspan><tspan dy="-5.5"> / NaOH</tspan></text>
</svg></body></html>
